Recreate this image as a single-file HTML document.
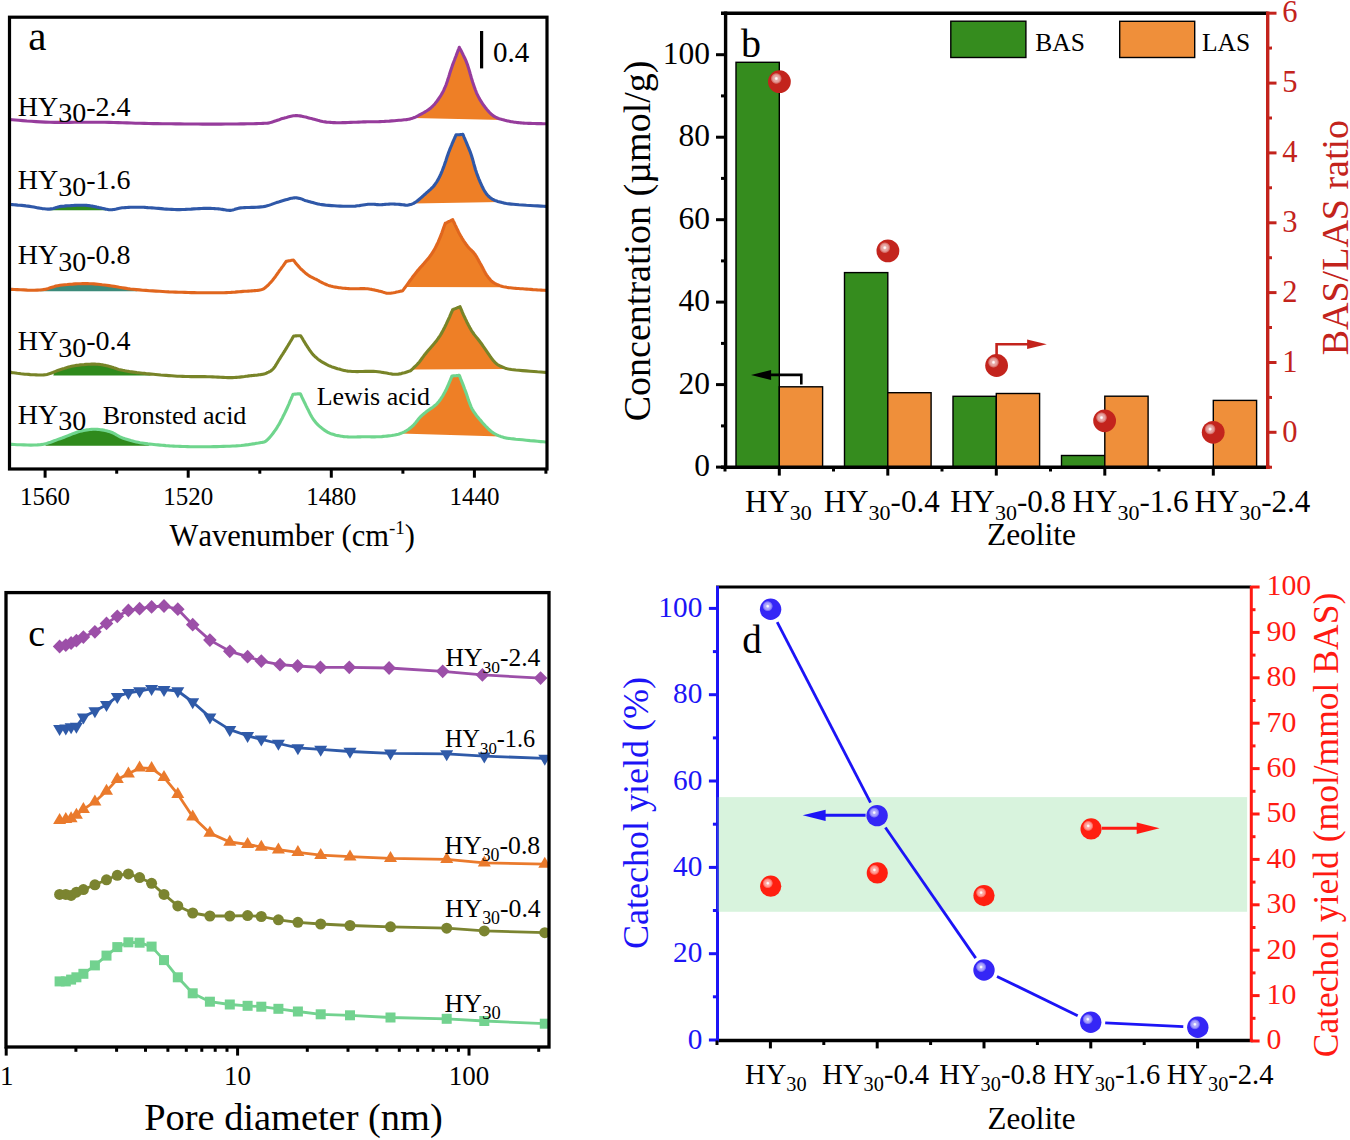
<!DOCTYPE html>
<html><head><meta charset="utf-8"><style>
html,body{margin:0;padding:0;background:#fff;overflow:hidden;}
svg{display:block;}
text{font-family:"Liberation Serif", serif;font-kerning:none;}
</style></head><body>
<svg width="1350" height="1140" viewBox="0 0 1350 1140">
<rect width="1350" height="1140" fill="#fff"/>
<defs>
<radialGradient id="hl" cx="0.5" cy="0.5" r="0.5">
 <stop offset="0" stop-color="#fff" stop-opacity="1"/><stop offset="0.15" stop-color="#fff" stop-opacity="0.95"/><stop offset="0.35" stop-color="#fff" stop-opacity="0.62"/><stop offset="0.62" stop-color="#fff" stop-opacity="0.55"/><stop offset="0.85" stop-color="#fff" stop-opacity="0.3"/><stop offset="1" stop-color="#fff" stop-opacity="0"/>
</radialGradient>
<radialGradient id="gRedDark" cx="0.5" cy="0.5" r="0.5" fx="0.36" fy="0.36">
 <stop offset="0" stop-color="#ffffff"/><stop offset="0.12" stop-color="#f4d0d0"/><stop offset="0.3" stop-color="#d86a66"/><stop offset="0.45" stop-color="#c72a22"/><stop offset="1" stop-color="#bd221b"/>
</radialGradient>
<radialGradient id="gRed" cx="0.5" cy="0.5" r="0.5" fx="0.36" fy="0.36">
 <stop offset="0" stop-color="#ffffff"/><stop offset="0.12" stop-color="#ffd8d8"/><stop offset="0.3" stop-color="#ff6a60"/><stop offset="0.45" stop-color="#ff2418"/><stop offset="1" stop-color="#f01a10"/>
</radialGradient>
<radialGradient id="gBlue" cx="0.5" cy="0.5" r="0.5" fx="0.36" fy="0.36">
 <stop offset="0" stop-color="#ffffff"/><stop offset="0.12" stop-color="#d8dcff"/><stop offset="0.3" stop-color="#8a8cff"/><stop offset="0.45" stop-color="#3a2cf8"/><stop offset="1" stop-color="#2414ee"/>
</radialGradient>
</defs>
<polygon points="413.0,118.1 413.6,117.8 414.4,117.5 415.2,117.2 415.9,116.9 416.7,116.5 417.4,116.1 418.2,115.7 419.1,115.2 420.0,114.7 421.0,114.2 422.0,113.6 423.1,113.0 424.2,112.4 425.3,111.7 426.5,111.0 427.6,110.3 428.7,109.6 429.7,108.8 430.7,108.0 431.6,107.2 432.5,106.3 433.3,105.5 434.2,104.6 435.0,103.7 435.7,102.7 436.5,101.8 437.2,100.8 438.0,99.8 438.7,98.7 439.4,97.6 440.1,96.6 440.8,95.6 441.4,94.5 442.1,93.4 442.7,92.2 443.4,91.0 444.0,89.7 444.6,88.2 445.3,86.7 446.0,85.0 446.6,83.2 447.3,81.3 447.9,79.2 448.6,77.2 449.3,75.0 449.9,72.9 450.6,70.8 451.3,68.7 452.0,66.7 452.7,64.6 453.5,62.5 454.4,60.2 455.2,58.0 456.1,55.8 456.9,53.6 457.6,51.7 458.3,49.9 458.9,48.5 459.3,47.3 459.7,48.2 460.3,49.3 461.0,50.6 461.8,52.1 462.6,53.7 463.4,55.4 464.3,57.2 465.2,59.0 466.0,60.9 466.7,62.7 467.4,64.6 468.1,66.7 468.8,68.9 469.5,71.2 470.1,73.5 470.8,75.8 471.4,78.0 472.1,80.2 472.7,82.2 473.3,84.0 473.9,85.7 474.4,87.2 474.9,88.6 475.4,90.0 475.9,91.2 476.4,92.5 476.9,93.7 477.5,94.9 478.1,96.1 478.7,97.3 479.4,98.6 480.1,99.9 480.9,101.1 481.7,102.4 482.5,103.7 483.4,104.9 484.2,106.1 485.1,107.2 485.9,108.3 486.7,109.3 487.5,110.2 488.3,111.1 489.1,112.0 489.8,112.8 490.6,113.5 491.4,114.3 492.2,114.9 493.0,115.6 493.8,116.1 494.7,116.7 495.6,117.2 496.5,117.6 497.4,118.0 498.3,118.4 499.3,118.7 500.2,119.0 501.2,119.2 502.1,119.5 503.1,119.7 504.0,120.0" fill="#ee7f26" stroke="none" stroke-width="0"/>
<polygon points="413.3,203.5 413.7,203.3 414.7,202.7 415.7,202.0 416.9,201.2 418.1,200.2 419.3,199.2 420.6,198.1 421.9,197.0 423.2,195.8 424.4,194.7 425.6,193.7 426.7,192.7 427.7,191.8 428.7,190.9 429.6,190.1 430.5,189.3 431.3,188.5 432.2,187.7 433.0,186.9 433.8,186.0 434.5,185.0 435.3,184.0 436.0,182.9 436.8,181.8 437.4,180.7 438.1,179.6 438.7,178.4 439.4,177.1 440.0,175.8 440.7,174.4 441.3,172.9 442.0,171.3 442.7,169.5 443.4,167.6 444.2,165.5 444.9,163.4 445.7,161.2 446.4,159.0 447.1,156.8 447.9,154.6 448.6,152.6 449.3,150.7 450.0,148.9 450.8,147.0 451.6,145.1 452.3,143.3 453.1,141.5 453.8,139.9 454.5,138.3 455.1,137.0 455.6,135.8 456.0,134.9 456.4,134.9 457.0,134.8 457.8,134.8 458.6,134.7 459.4,134.7 460.3,134.6 461.1,134.5 461.9,134.5 462.5,134.4 462.9,134.4 463.4,135.5 464.0,137.0 464.7,138.6 465.5,140.5 466.4,142.6 467.3,144.8 468.2,147.0 469.1,149.1 470.0,151.3 470.7,153.3 471.4,155.3 472.0,157.3 472.6,159.3 473.2,161.4 473.7,163.4 474.3,165.5 474.9,167.5 475.4,169.5 476.1,171.4 476.7,173.3 477.4,175.1 478.1,177.0 478.8,178.8 479.6,180.6 480.3,182.4 481.1,184.1 481.8,185.7 482.6,187.3 483.3,188.7 484.0,190.0 484.7,191.2 485.3,192.2 486.0,193.2 486.6,194.0 487.2,194.8 487.9,195.5 488.5,196.2 489.2,196.8 489.9,197.4 490.7,198.0 491.5,198.6 492.3,199.1 493.2,199.5 494.0,200.0 494.9,200.4 495.9,200.7 496.8,201.1 497.8,201.4 498.9,201.7 500.0,202.0" fill="#ee7f26" stroke="none" stroke-width="0"/>
<polygon points="50.0,210.2 50.8,208.9 52.2,208.7 53.4,208.4 54.7,208.0 55.9,207.6 57.1,207.3 58.3,206.9 59.7,206.6 61.1,206.4 62.7,206.2 64.3,206.1 66.0,205.9 67.8,205.8 69.6,205.7 71.4,205.6 73.1,205.5 74.8,205.4 76.3,205.3 77.8,205.3 79.1,205.3 80.4,205.2 81.5,205.2 82.6,205.2 83.7,205.2 84.7,205.3 85.7,205.3 86.8,205.4 87.8,205.5 88.9,205.6 90.0,205.7 91.1,205.9 92.2,206.1 93.3,206.4 94.5,206.6 95.6,206.8 96.7,207.1 97.8,207.3 98.9,207.6 100.0,207.8 101.1,208.0 102.2,208.3 103.3,208.5 104.4,208.8 105.5,209.1 106.0,210.2" fill="#2f8a1c" stroke="none" stroke-width="0"/>
<polygon points="405.3,287.1 405.7,286.6 407.0,284.8 408.4,282.8 409.9,280.7 411.5,278.6 413.0,276.5 414.6,274.6 416.0,272.7 417.4,270.9 419.0,269.1 420.5,267.3 422.1,265.6 423.7,263.8 425.2,262.0 426.7,260.3 428.2,258.6 429.5,256.9 430.7,255.3 431.8,253.7 432.8,252.2 433.6,250.8 434.4,249.4 435.2,248.0 435.9,246.6 436.6,245.2 437.3,243.8 438.0,242.3 438.7,240.7 439.4,239.0 440.2,237.1 441.0,235.1 441.8,233.1 442.5,231.1 443.2,229.1 443.8,227.3 444.4,225.7 444.9,224.3 445.3,223.3 445.8,223.1 446.4,222.8 447.2,222.4 448.1,221.9 449.0,221.5 449.9,221.1 450.8,220.6 451.6,220.2 452.2,219.9 452.7,219.7 453.1,220.6 453.7,221.8 454.4,223.2 455.1,224.8 455.9,226.5 456.7,228.2 457.6,230.0 458.4,231.7 459.2,233.3 460.0,234.7 460.7,236.0 461.5,237.2 462.2,238.5 462.9,239.6 463.6,240.8 464.4,241.9 465.1,243.0 465.8,244.0 466.6,245.0 467.3,246.0 468.0,246.9 468.8,247.8 469.5,248.5 470.3,249.3 471.0,250.0 471.8,250.7 472.5,251.5 473.3,252.2 474.0,253.1 474.7,254.0 475.4,255.0 476.1,256.1 476.8,257.2 477.4,258.3 478.1,259.5 478.7,260.7 479.4,261.9 480.0,263.0 480.7,264.2 481.3,265.3 481.9,266.4 482.5,267.5 483.1,268.7 483.7,269.8 484.2,270.9 484.8,272.0 485.4,273.1 486.0,274.1 486.6,275.1 487.3,276.0 488.0,276.9 488.6,277.7 489.3,278.5 489.9,279.3 490.6,280.1 491.3,280.8 492.1,281.5 492.9,282.1 493.8,282.7 494.7,283.3 495.7,283.8 496.7,284.3 497.7,284.8 498.8,285.2 499.9,285.6 501.1,286.0 502.4,286.4 503.7,286.7 505.2,287.0 506.7,287.3" fill="#ee7f26" stroke="none" stroke-width="0"/>
<polygon points="40.0,291.3 42.4,289.7 44.6,289.4 46.6,288.9 48.5,288.4 50.3,287.8 52.1,287.2 53.9,286.7 55.8,286.1 57.8,285.7 60.0,285.3 62.3,285.0 64.8,284.7 67.3,284.5 69.9,284.2 72.6,284.1 75.2,283.9 77.8,283.8 80.4,283.7 82.9,283.6 85.3,283.6 87.6,283.6 89.7,283.7 91.8,283.8 93.9,283.9 95.9,284.1 98.0,284.3 100.0,284.5 102.1,284.8 104.4,285.0 106.7,285.3 109.1,285.6 111.6,286.0 114.1,286.4 116.7,286.8 119.3,287.3 122.0,287.7 124.7,288.1 127.5,288.6 130.4,289.0 133.3,289.3 136.3,289.6 137.3,291.3" fill="#3b8a7a" stroke="none" stroke-width="0"/>
<polygon points="412.0,369.4 412.6,368.9 413.4,368.1 414.3,367.2 415.2,366.3 416.2,365.4 417.1,364.5 417.9,363.6 418.7,362.7 419.4,361.9 420.0,361.1 420.6,360.3 421.1,359.6 421.7,358.8 422.3,358.0 422.9,357.1 423.6,356.2 424.4,355.1 425.3,354.0 426.3,352.7 427.5,351.3 428.8,349.8 430.2,348.2 431.6,346.6 433.0,344.9 434.4,343.3 435.7,341.7 436.9,340.2 438.0,338.7 438.9,337.3 439.8,336.1 440.6,334.8 441.3,333.6 442.0,332.4 442.6,331.2 443.3,330.0 443.9,328.7 444.6,327.4 445.3,326.0 446.1,324.4 446.9,322.7 447.7,320.9 448.6,319.0 449.5,317.1 450.3,315.2 451.0,313.5 451.7,312.0 452.3,310.7 452.7,309.7 453.2,309.5 453.8,309.2 454.6,308.9 455.4,308.6 456.4,308.2 457.3,307.8 458.1,307.5 458.9,307.2 459.5,306.9 460.0,306.7 460.3,307.4 460.7,308.3 461.2,309.4 461.7,310.6 462.2,311.9 462.8,313.3 463.4,314.7 464.1,316.1 464.7,317.4 465.3,318.7 465.9,319.9 466.5,321.2 467.1,322.5 467.8,323.8 468.4,325.0 469.1,326.3 469.8,327.6 470.5,328.8 471.2,330.1 472.0,331.3 472.8,332.5 473.5,333.5 474.3,334.6 475.1,335.6 475.9,336.6 476.8,337.7 477.7,338.8 478.6,340.0 479.6,341.3 480.7,342.7 481.9,344.3 483.1,346.2 484.5,348.2 485.9,350.2 487.4,352.4 488.8,354.4 490.2,356.4 491.6,358.3 492.8,359.9 494.0,361.3 495.0,362.4 496.0,363.3 496.9,364.1 497.7,364.7 498.5,365.2 499.3,365.6 500.1,366.0 500.9,366.3 501.8,366.7 502.7,367.1 503.6,367.5 504.4,367.8 505.1,368.1 505.8,368.4 506.5,368.6 507.4,368.8 508.0,368.9" fill="#ee7f26" stroke="none" stroke-width="0"/>
<polygon points="53.3,375.4 54.3,371.9 55.7,371.3 57.1,370.7 58.5,370.2 60.0,369.7 61.5,369.2 62.9,368.8 64.3,368.4 65.7,367.9 67.1,367.5 68.5,367.1 70.0,366.7 71.5,366.3 73.1,366.0 74.7,365.7 76.4,365.4 78.3,365.2 80.2,364.9 82.1,364.7 84.1,364.6 86.0,364.4 88.0,364.3 89.9,364.2 91.6,364.1 93.3,364.1 94.9,364.1 96.3,364.2 97.7,364.3 99.0,364.4 100.3,364.5 101.6,364.7 102.9,364.9 104.1,365.2 105.4,365.4 106.7,365.7 108.0,366.0 109.4,366.4 110.7,366.8 112.0,367.2 113.4,367.6 114.7,368.1 116.0,368.5 117.3,369.0 118.7,369.4 120.0,369.7 121.3,370.0 122.6,370.3 123.8,370.5 125.0,370.8 126.2,371.0 127.5,371.2 128.8,371.4 130.2,371.7 131.7,371.9 133.3,372.1 135.0,372.3 136.8,372.6 138.6,372.8 140.5,373.0 142.5,373.2 144.5,373.4 146.6,373.7 148.8,373.9 150.7,375.4" fill="#2f8a1c" stroke="none" stroke-width="0"/>
<polygon points="400.0,433.6 400.3,433.6 401.2,433.2 402.0,432.9 402.8,432.6 403.6,432.2 404.5,431.8 405.3,431.3 406.2,430.8 407.0,430.3 407.8,429.8 408.7,429.2 409.5,428.6 410.3,428.0 411.0,427.3 411.8,426.7 412.6,426.0 413.3,425.3 414.0,424.6 414.7,423.8 415.4,423.0 416.1,422.1 416.8,421.3 417.4,420.4 418.1,419.6 418.7,418.8 419.4,418.0 420.0,417.3 420.6,416.7 421.2,416.1 421.7,415.6 422.2,415.1 422.7,414.7 423.3,414.2 423.8,413.8 424.5,413.2 425.2,412.7 426.0,412.0 426.9,411.3 428.0,410.5 429.1,409.7 430.3,408.9 431.5,408.1 432.8,407.2 434.0,406.3 435.2,405.3 436.3,404.3 437.3,403.3 438.2,402.2 439.1,401.2 440.0,400.0 440.8,398.9 441.6,397.7 442.4,396.5 443.1,395.2 443.8,394.0 444.6,392.6 445.3,391.3 446.1,389.8 446.8,388.2 447.6,386.5 448.4,384.7 449.1,382.9 449.9,381.2 450.5,379.6 451.1,378.1 451.6,376.9 452.0,376.0 452.5,376.0 453.1,375.9 453.9,375.8 454.7,375.7 455.7,375.7 456.6,375.6 457.4,375.5 458.2,375.4 458.8,375.3 459.3,375.3 459.7,376.2 460.1,377.4 460.6,378.7 461.2,380.2 461.9,381.9 462.6,383.6 463.3,385.4 464.0,387.2 464.6,389.0 465.3,390.7 465.9,392.4 466.6,394.2 467.2,396.1 467.8,398.0 468.4,399.9 469.1,401.8 469.8,403.6 470.5,405.4 471.2,407.1 472.0,408.7 472.8,410.2 473.7,411.6 474.6,412.9 475.5,414.2 476.4,415.5 477.4,416.7 478.3,417.8 479.3,419.0 480.3,420.1 481.3,421.3 482.3,422.5 483.4,423.7 484.4,424.8 485.5,426.0 486.6,427.1 487.7,428.2 488.7,429.3 489.8,430.2 490.9,431.2 492.0,432.0 493.1,432.8 494.1,433.4 495.2,434.0 496.3,434.6 497.4,435.1 498.4,435.6 499.5,436.0 500.6,436.4 501.3,436.6" fill="#ee7f26" stroke="none" stroke-width="0"/>
<polygon points="45.3,445.7 46.7,443.4 48.7,442.8 50.6,442.2 52.5,441.5 54.3,440.8 56.2,440.1 58.0,439.4 60.0,438.7 62.0,438.0 64.1,437.2 66.1,436.4 68.2,435.6 70.2,434.8 72.3,433.9 74.3,433.2 76.3,432.5 78.2,431.8 80.0,431.3 81.8,430.9 83.5,430.5 85.1,430.2 86.8,429.9 88.3,429.7 89.9,429.5 91.4,429.4 92.9,429.3 94.5,429.3 96.0,429.3 97.5,429.4 99.1,429.5 100.6,429.7 102.1,429.9 103.6,430.1 105.1,430.5 106.5,430.8 108.0,431.2 109.3,431.6 110.7,432.0 112.0,432.5 113.2,433.0 114.3,433.6 115.4,434.2 116.5,434.9 117.6,435.5 118.8,436.2 120.0,436.8 121.3,437.4 122.7,438.0 124.2,438.5 125.8,439.1 127.4,439.6 129.1,440.1 130.8,440.6 132.6,441.0 134.4,441.5 136.3,441.9 138.1,442.3 140.0,442.7 141.9,443.0 143.8,443.3 145.8,443.6 147.8,443.9 149.3,445.7" fill="#2f8a1c" stroke="none" stroke-width="0"/>
<polyline points="10.0,119.6 12.3,119.8 15.3,120.0 18.7,120.3 22.6,120.6 26.9,121.0 31.4,121.3 36.0,121.6 40.7,121.9 45.4,122.1 50.0,122.3 54.6,122.4 59.4,122.4 64.4,122.4 69.5,122.4 74.7,122.3 79.9,122.3 85.1,122.2 90.2,122.2 95.2,122.2 100.0,122.2 104.7,122.3 109.2,122.4 113.7,122.5 118.2,122.6 122.5,122.8 126.9,122.9 131.2,123.0 135.6,123.2 140.0,123.3 144.4,123.4 148.8,123.5 153.3,123.6 157.7,123.6 162.2,123.7 166.7,123.8 171.1,123.8 175.6,123.9 180.0,123.9 184.5,124.0 188.9,124.0 193.4,124.0 198.0,124.0 202.7,124.1 207.4,124.1 212.0,124.1 216.6,124.1 221.1,124.1 225.4,124.0 229.5,124.0 233.3,124.0 237.0,124.0 240.5,123.9 244.0,123.9 247.3,123.8 250.5,123.8 253.4,123.7 256.2,123.6 258.7,123.5 261.0,123.5 263.0,123.4 264.6,123.3 265.8,123.3 266.6,123.3 267.2,123.2 267.6,123.2 268.0,123.1 268.3,123.1 268.8,122.9 269.5,122.7 270.4,122.5 271.6,122.2 272.9,121.8 274.4,121.3 275.9,120.8 277.5,120.2 279.1,119.7 280.7,119.1 282.3,118.6 283.8,118.2 285.2,117.8 286.5,117.5 287.7,117.1 288.9,116.8 290.0,116.5 291.1,116.2 292.2,116.0 293.4,115.8 294.5,115.7 295.7,115.6 297.0,115.6 298.4,115.7 299.8,115.9 301.2,116.1 302.7,116.4 304.2,116.8 305.7,117.1 307.2,117.5 308.7,117.9 310.1,118.3 311.5,118.6 312.8,118.9 314.1,119.2 315.3,119.6 316.5,119.9 317.7,120.3 318.9,120.6 320.1,120.9 321.3,121.2 322.6,121.5 323.9,121.7 325.2,121.9 326.5,122.1 327.8,122.2 329.0,122.3 330.4,122.4 331.8,122.5 333.2,122.6 334.8,122.6 336.5,122.7 338.4,122.7 340.5,122.7 342.8,122.6 345.4,122.6 348.0,122.5 350.7,122.4 353.4,122.3 356.1,122.2 358.7,122.1 361.1,122.0 363.3,121.9 365.3,121.9 367.1,121.8 368.7,121.8 370.3,121.8 371.8,121.8 373.3,121.8 374.8,121.8 376.4,121.7 378.1,121.7 380.0,121.6 382.1,121.5 384.4,121.4 386.8,121.2 389.3,121.1 391.8,120.9 394.3,120.7 396.7,120.5 398.9,120.3 400.9,120.2 402.7,120.0 404.2,119.8 405.4,119.7 406.5,119.6 407.4,119.5 408.3,119.3 409.0,119.2 409.7,119.0 410.4,118.9 411.2,118.6 412.0,118.4 412.8,118.1 413.6,117.8 414.4,117.5 415.2,117.2 415.9,116.9 416.7,116.5 417.4,116.1 418.2,115.7 419.1,115.2 420.0,114.7 421.0,114.2 422.0,113.6 423.1,113.0 424.2,112.4 425.3,111.7 426.5,111.0 427.6,110.3 428.7,109.6 429.7,108.8 430.7,108.0 431.6,107.2 432.5,106.3 433.3,105.5 434.2,104.6 435.0,103.7 435.7,102.7 436.5,101.8 437.2,100.8 438.0,99.8 438.7,98.7 439.4,97.6 440.1,96.6 440.8,95.6 441.4,94.5 442.1,93.4 442.7,92.2 443.4,91.0 444.0,89.7 444.6,88.2 445.3,86.7 446.0,85.0 446.6,83.2 447.3,81.3 447.9,79.2 448.6,77.2 449.3,75.0 449.9,72.9 450.6,70.8 451.3,68.7 452.0,66.7 452.7,64.6 453.5,62.5 454.4,60.2 455.2,58.0 456.1,55.8 456.9,53.6 457.6,51.7 458.3,49.9 458.9,48.5 459.3,47.3 459.7,48.2 460.3,49.3 461.0,50.6 461.8,52.1 462.6,53.7 463.4,55.4 464.3,57.2 465.2,59.0 466.0,60.9 466.7,62.7 467.4,64.6 468.1,66.7 468.8,68.9 469.5,71.2 470.1,73.5 470.8,75.8 471.4,78.0 472.1,80.2 472.7,82.2 473.3,84.0 473.9,85.7 474.4,87.2 474.9,88.6 475.4,90.0 475.9,91.2 476.4,92.5 476.9,93.7 477.5,94.9 478.1,96.1 478.7,97.3 479.4,98.6 480.1,99.9 480.9,101.1 481.7,102.4 482.5,103.7 483.4,104.9 484.2,106.1 485.1,107.2 485.9,108.3 486.7,109.3 487.5,110.2 488.3,111.1 489.1,112.0 489.8,112.8 490.6,113.5 491.4,114.3 492.2,114.9 493.0,115.6 493.8,116.1 494.7,116.7 495.6,117.2 496.5,117.6 497.4,118.0 498.3,118.4 499.3,118.7 500.2,119.0 501.2,119.2 502.1,119.5 503.1,119.7 504.0,120.0 504.9,120.3 505.8,120.5 506.7,120.7 507.5,120.9 508.4,121.1 509.3,121.3 510.2,121.5 511.2,121.7 512.2,121.8 513.3,122.0 514.4,122.2 515.6,122.3 516.8,122.5 518.1,122.6 519.4,122.8 520.8,122.9 522.2,123.0 523.6,123.1 525.1,123.2 526.7,123.3 528.4,123.4 530.4,123.4 532.5,123.5 534.7,123.5 536.9,123.6 539.1,123.6 541.1,123.6 542.9,123.7 544.4,123.7 545.5,123.7" fill="none" stroke="#963c9c" stroke-width="3.1" stroke-linejoin="round" stroke-linecap="round" />
<polyline points="10.0,204.4 11.0,204.5 12.4,204.6 14.0,204.7 15.7,204.9 17.7,205.1 19.7,205.2 21.7,205.4 23.8,205.6 25.9,205.9 27.8,206.1 29.7,206.4 31.8,206.7 33.8,207.1 36.0,207.5 38.1,207.9 40.2,208.2 42.2,208.6 44.2,208.8 46.1,209.0 47.8,209.1 49.4,209.1 50.8,208.9 52.2,208.7 53.4,208.4 54.7,208.0 55.9,207.6 57.1,207.3 58.3,206.9 59.7,206.6 61.1,206.4 62.7,206.2 64.3,206.1 66.0,205.9 67.8,205.8 69.6,205.7 71.4,205.6 73.1,205.5 74.8,205.4 76.3,205.3 77.8,205.3 79.1,205.3 80.4,205.2 81.5,205.2 82.6,205.2 83.7,205.2 84.7,205.3 85.7,205.3 86.8,205.4 87.8,205.5 88.9,205.6 90.0,205.7 91.1,205.9 92.2,206.1 93.3,206.4 94.5,206.6 95.6,206.8 96.7,207.1 97.8,207.3 98.9,207.6 100.0,207.8 101.1,208.0 102.2,208.3 103.3,208.5 104.4,208.8 105.5,209.1 106.7,209.3 107.8,209.5 108.9,209.7 110.0,209.8 111.1,209.8 112.2,209.8 113.2,209.6 114.3,209.4 115.3,209.2 116.3,209.0 117.4,208.7 118.5,208.4 119.6,208.2 120.9,208.0 122.2,207.8 123.7,207.7 125.2,207.6 126.9,207.5 128.7,207.4 130.4,207.3 132.2,207.3 134.0,207.2 135.7,207.2 137.4,207.2 138.9,207.2 140.3,207.2 141.5,207.2 142.7,207.3 143.8,207.3 144.9,207.4 146.0,207.5 147.2,207.6 148.6,207.7 150.1,207.8 151.9,207.9 153.9,208.0 156.1,208.2 158.5,208.4 161.0,208.6 163.6,208.9 166.3,209.1 169.0,209.3 171.7,209.4 174.4,209.5 177.0,209.6 179.7,209.6 182.4,209.5 185.3,209.4 188.1,209.2 191.0,209.1 193.8,208.9 196.5,208.7 199.1,208.6 201.5,208.5 203.7,208.4 205.7,208.4 207.5,208.4 209.1,208.4 210.6,208.4 212.0,208.5 213.4,208.5 214.6,208.6 215.9,208.7 217.2,208.8 218.5,208.9 219.8,209.0 221.1,209.2 222.3,209.4 223.5,209.6 224.7,209.8 225.9,210.0 227.0,210.2 228.2,210.3 229.3,210.4 230.4,210.4 231.4,210.3 232.4,210.1 233.2,209.9 234.1,209.6 234.9,209.3 235.8,209.0 236.8,208.7 237.9,208.4 239.2,208.1 240.7,207.9 242.5,207.7 244.5,207.6 246.7,207.5 249.1,207.5 251.6,207.4 254.0,207.4 256.5,207.3 258.8,207.1 261.0,206.9 263.0,206.7 264.8,206.4 266.4,206.0 268.0,205.6 269.5,205.1 270.9,204.6 272.2,204.1 273.6,203.6 275.0,203.1 276.4,202.6 277.8,202.2 279.3,201.8 280.9,201.3 282.5,200.8 284.1,200.3 285.7,199.8 287.2,199.4 288.7,199.0 290.1,198.6 291.4,198.3 292.6,198.1 293.6,197.9 294.6,197.9 295.4,197.8 296.1,197.8 296.8,197.9 297.4,198.0 298.0,198.1 298.6,198.2 299.3,198.4 300.0,198.5 300.7,198.7 301.3,198.9 301.9,199.1 302.5,199.3 303.1,199.6 303.7,199.9 304.4,200.2 305.2,200.5 306.2,200.8 307.3,201.1 308.5,201.4 309.9,201.8 311.3,202.2 312.8,202.6 314.4,203.1 316.1,203.5 317.9,203.9 319.8,204.3 321.8,204.6 323.9,204.9 326.2,205.2 328.8,205.4 331.5,205.6 334.3,205.8 337.3,206.0 340.2,206.1 343.1,206.2 345.9,206.3 348.5,206.3 350.9,206.3 353.1,206.2 355.3,206.1 357.4,205.8 359.4,205.6 361.3,205.3 363.1,205.0 364.9,204.7 366.5,204.5 368.1,204.3 369.6,204.2 371.0,204.2 372.2,204.2 373.2,204.2 374.2,204.3 375.1,204.4 376.0,204.5 376.9,204.6 377.9,204.6 378.9,204.7 380.0,204.7 381.2,204.7 382.5,204.6 383.8,204.5 385.1,204.4 386.4,204.3 387.8,204.2 389.2,204.1 390.5,204.0 391.9,204.0 393.3,204.0 394.7,204.1 396.3,204.2 397.9,204.3 399.5,204.4 401.1,204.6 402.7,204.8 404.1,204.9 405.4,205.1 406.5,205.2 407.3,205.3 407.7,205.2 408.2,205.1 408.8,204.9 409.5,204.8 410.2,204.6 411.1,204.4 411.9,204.1 412.8,203.7 413.7,203.3 414.7,202.7 415.7,202.0 416.9,201.2 418.1,200.2 419.3,199.2 420.6,198.1 421.9,197.0 423.2,195.8 424.4,194.7 425.6,193.7 426.7,192.7 427.7,191.8 428.7,190.9 429.6,190.1 430.5,189.3 431.3,188.5 432.2,187.7 433.0,186.9 433.8,186.0 434.5,185.0 435.3,184.0 436.0,182.9 436.8,181.8 437.4,180.7 438.1,179.6 438.7,178.4 439.4,177.1 440.0,175.8 440.7,174.4 441.3,172.9 442.0,171.3 442.7,169.5 443.4,167.6 444.2,165.5 444.9,163.4 445.7,161.2 446.4,159.0 447.1,156.8 447.9,154.6 448.6,152.6 449.3,150.7 450.0,148.9 450.8,147.0 451.6,145.1 452.3,143.3 453.1,141.5 453.8,139.9 454.5,138.3 455.1,137.0 455.6,135.8 456.0,134.9 456.4,134.9 457.0,134.8 457.8,134.8 458.6,134.7 459.4,134.7 460.3,134.6 461.1,134.5 461.9,134.5 462.5,134.4 462.9,134.4 463.4,135.5 464.0,137.0 464.7,138.6 465.5,140.5 466.4,142.6 467.3,144.8 468.2,147.0 469.1,149.1 470.0,151.3 470.7,153.3 471.4,155.3 472.0,157.3 472.6,159.3 473.2,161.4 473.7,163.4 474.3,165.5 474.9,167.5 475.4,169.5 476.1,171.4 476.7,173.3 477.4,175.1 478.1,177.0 478.8,178.8 479.6,180.6 480.3,182.4 481.1,184.1 481.8,185.7 482.6,187.3 483.3,188.7 484.0,190.0 484.7,191.2 485.3,192.2 486.0,193.2 486.6,194.0 487.2,194.8 487.9,195.5 488.5,196.2 489.2,196.8 489.9,197.4 490.7,198.0 491.5,198.6 492.3,199.1 493.2,199.5 494.0,200.0 494.9,200.4 495.9,200.7 496.8,201.1 497.8,201.4 498.9,201.7 500.0,202.0 501.1,202.3 502.1,202.6 503.1,202.8 504.1,203.1 505.2,203.3 506.4,203.5 507.8,203.7 509.4,203.9 511.2,204.1 513.3,204.3 515.9,204.5 519.0,204.8 522.6,205.0 526.4,205.3 530.2,205.5 534.0,205.7 537.6,205.9 540.8,206.1 543.5,206.3 545.5,206.4" fill="none" stroke="#2f58a8" stroke-width="3.1" stroke-linejoin="round" stroke-linecap="round" />
<polyline points="10.0,289.3 11.8,289.4 14.2,289.5 17.1,289.6 20.3,289.8 23.8,289.9 27.3,290.1 30.8,290.2 34.2,290.2 37.3,290.1 40.0,290.0 42.4,289.7 44.6,289.4 46.6,288.9 48.5,288.4 50.3,287.8 52.1,287.2 53.9,286.7 55.8,286.1 57.8,285.7 60.0,285.3 62.3,285.0 64.8,284.7 67.3,284.5 69.9,284.2 72.6,284.1 75.2,283.9 77.8,283.8 80.4,283.7 82.9,283.6 85.3,283.6 87.6,283.6 89.7,283.7 91.8,283.8 93.9,283.9 95.9,284.1 98.0,284.3 100.0,284.5 102.1,284.8 104.4,285.0 106.7,285.3 109.1,285.6 111.6,286.0 114.1,286.4 116.7,286.8 119.3,287.3 122.0,287.7 124.7,288.1 127.5,288.6 130.4,289.0 133.3,289.3 136.3,289.6 139.5,289.9 142.7,290.2 146.0,290.4 149.3,290.7 152.7,290.9 156.0,291.1 159.4,291.3 162.7,291.5 165.9,291.7 169.1,291.9 172.3,292.0 175.5,292.1 178.7,292.2 181.9,292.3 185.0,292.4 188.1,292.5 191.2,292.6 194.2,292.6 197.1,292.7 200.0,292.7 202.9,292.8 205.7,292.8 208.5,292.8 211.2,292.8 213.9,292.8 216.5,292.8 219.1,292.8 221.6,292.8 224.0,292.7 226.4,292.6 228.6,292.5 230.9,292.4 233.0,292.2 235.1,292.1 237.2,291.9 239.2,291.8 241.1,291.6 243.0,291.4 244.8,291.3 246.6,291.2 248.3,291.1 250.1,291.0 251.7,290.9 253.3,290.8 254.9,290.6 256.3,290.5 257.6,290.4 258.9,290.2 260.0,290.0 261.0,289.8 261.8,289.6 262.4,289.4 263.0,289.1 263.5,288.9 263.9,288.6 264.4,288.3 264.9,287.9 265.4,287.5 266.0,287.0 266.7,286.4 267.4,285.8 268.1,285.1 268.9,284.3 269.6,283.5 270.4,282.7 271.1,281.9 271.9,281.0 272.6,280.2 273.3,279.3 274.0,278.4 274.7,277.5 275.4,276.6 276.0,275.7 276.7,274.7 277.4,273.8 278.0,272.8 278.7,271.8 279.3,270.9 280.0,270.0 280.7,269.1 281.4,268.1 282.1,267.1 282.9,266.1 283.6,265.1 284.3,264.1 284.9,263.3 285.4,262.5 285.9,261.8 286.3,261.3 286.7,261.2 287.4,261.1 288.1,261.0 288.9,260.8 289.8,260.7 290.7,260.5 291.5,260.3 292.2,260.2 292.9,260.1 293.3,260.0 293.7,260.5 294.2,261.1 294.8,261.8 295.4,262.7 296.1,263.6 296.9,264.5 297.7,265.4 298.5,266.3 299.2,267.2 300.0,268.0 300.7,268.8 301.5,269.5 302.3,270.2 303.1,271.0 303.9,271.7 304.7,272.4 305.5,273.1 306.3,273.8 307.2,274.4 308.0,275.0 308.8,275.6 309.7,276.1 310.5,276.6 311.4,277.0 312.2,277.5 313.1,277.9 314.0,278.3 314.9,278.8 315.8,279.2 316.7,279.7 317.6,280.2 318.6,280.7 319.6,281.3 320.6,281.8 321.6,282.3 322.6,282.9 323.7,283.4 324.7,283.8 325.7,284.3 326.7,284.7 327.7,285.1 328.6,285.4 329.6,285.7 330.5,286.0 331.5,286.2 332.5,286.5 333.5,286.7 334.5,286.9 335.6,287.1 336.7,287.3 337.9,287.5 339.1,287.7 340.3,287.8 341.6,288.0 342.9,288.2 344.2,288.3 345.6,288.4 347.0,288.5 348.5,288.6 350.0,288.7 351.6,288.8 353.3,288.8 355.1,288.7 356.9,288.7 358.8,288.7 360.7,288.6 362.5,288.6 364.3,288.6 365.9,288.7 367.5,288.8 369.0,289.0 370.4,289.2 371.7,289.4 373.0,289.7 374.3,289.9 375.5,290.2 376.6,290.5 377.8,290.8 378.9,291.1 380.0,291.3 381.0,291.5 382.0,291.8 382.9,292.1 383.8,292.4 384.6,292.6 385.4,292.9 386.3,293.1 387.2,293.2 388.2,293.3 389.3,293.3 390.5,293.2 391.9,293.0 393.4,292.8 395.0,292.5 396.6,292.1 398.1,291.8 399.5,291.4 400.8,291.1 401.9,290.9 402.7,290.7 403.5,289.6 404.5,288.2 405.7,286.6 407.0,284.8 408.4,282.8 409.9,280.7 411.5,278.6 413.0,276.5 414.6,274.6 416.0,272.7 417.4,270.9 419.0,269.1 420.5,267.3 422.1,265.6 423.7,263.8 425.2,262.0 426.7,260.3 428.2,258.6 429.5,256.9 430.7,255.3 431.8,253.7 432.8,252.2 433.6,250.8 434.4,249.4 435.2,248.0 435.9,246.6 436.6,245.2 437.3,243.8 438.0,242.3 438.7,240.7 439.4,239.0 440.2,237.1 441.0,235.1 441.8,233.1 442.5,231.1 443.2,229.1 443.8,227.3 444.4,225.7 444.9,224.3 445.3,223.3 445.8,223.1 446.4,222.8 447.2,222.4 448.1,221.9 449.0,221.5 449.9,221.1 450.8,220.6 451.6,220.2 452.2,219.9 452.7,219.7 453.1,220.6 453.7,221.8 454.4,223.2 455.1,224.8 455.9,226.5 456.7,228.2 457.6,230.0 458.4,231.7 459.2,233.3 460.0,234.7 460.7,236.0 461.5,237.2 462.2,238.5 462.9,239.6 463.6,240.8 464.4,241.9 465.1,243.0 465.8,244.0 466.6,245.0 467.3,246.0 468.0,246.9 468.8,247.8 469.5,248.5 470.3,249.3 471.0,250.0 471.8,250.7 472.5,251.5 473.3,252.2 474.0,253.1 474.7,254.0 475.4,255.0 476.1,256.1 476.8,257.2 477.4,258.3 478.1,259.5 478.7,260.7 479.4,261.9 480.0,263.0 480.7,264.2 481.3,265.3 481.9,266.4 482.5,267.5 483.1,268.7 483.7,269.8 484.2,270.9 484.8,272.0 485.4,273.1 486.0,274.1 486.6,275.1 487.3,276.0 488.0,276.9 488.6,277.7 489.3,278.5 489.9,279.3 490.6,280.1 491.3,280.8 492.1,281.5 492.9,282.1 493.8,282.7 494.7,283.3 495.7,283.8 496.7,284.3 497.7,284.8 498.8,285.2 499.9,285.6 501.1,286.0 502.4,286.4 503.7,286.7 505.2,287.0 506.7,287.3 508.4,287.6 510.2,287.8 512.1,288.0 514.2,288.2 516.3,288.4 518.4,288.5 520.5,288.7 522.6,288.8 524.7,289.0 526.7,289.1 528.7,289.3 530.8,289.4 533.0,289.6 535.2,289.7 537.4,289.9 539.4,290.0 541.3,290.1 543.0,290.2 544.4,290.3 545.5,290.4" fill="none" stroke="#e0661e" stroke-width="3.1" stroke-linejoin="round" stroke-linecap="round" />
<polyline points="10.0,372.3 11.0,372.4 12.2,372.6 13.7,372.8 15.4,373.0 17.2,373.3 19.1,373.5 21.0,373.8 23.0,374.0 24.9,374.2 26.7,374.3 28.5,374.4 30.4,374.6 32.3,374.7 34.2,374.8 36.1,374.9 38.0,375.0 39.9,375.0 41.8,375.0 43.6,374.9 45.3,374.7 46.9,374.4 48.5,374.0 50.0,373.6 51.5,373.0 52.9,372.5 54.3,371.9 55.7,371.3 57.1,370.7 58.5,370.2 60.0,369.7 61.5,369.2 62.9,368.8 64.3,368.4 65.7,367.9 67.1,367.5 68.5,367.1 70.0,366.7 71.5,366.3 73.1,366.0 74.7,365.7 76.4,365.4 78.3,365.2 80.2,364.9 82.1,364.7 84.1,364.6 86.0,364.4 88.0,364.3 89.9,364.2 91.6,364.1 93.3,364.1 94.9,364.1 96.3,364.2 97.7,364.3 99.0,364.4 100.3,364.5 101.6,364.7 102.9,364.9 104.1,365.2 105.4,365.4 106.7,365.7 108.0,366.0 109.4,366.4 110.7,366.8 112.0,367.2 113.4,367.6 114.7,368.1 116.0,368.5 117.3,369.0 118.7,369.4 120.0,369.7 121.3,370.0 122.6,370.3 123.8,370.5 125.0,370.8 126.2,371.0 127.5,371.2 128.8,371.4 130.2,371.7 131.7,371.9 133.3,372.1 135.0,372.3 136.8,372.6 138.6,372.8 140.5,373.0 142.5,373.2 144.5,373.4 146.6,373.7 148.8,373.9 151.0,374.1 153.3,374.3 155.7,374.5 158.2,374.7 160.8,375.0 163.5,375.2 166.2,375.4 168.9,375.6 171.7,375.8 174.5,376.0 177.3,376.2 180.0,376.3 182.7,376.4 185.5,376.5 188.2,376.5 191.0,376.6 193.8,376.6 196.6,376.6 199.3,376.6 202.1,376.6 204.8,376.6 207.4,376.7 210.0,376.8 212.7,376.9 215.3,377.0 217.9,377.1 220.5,377.3 223.1,377.4 225.5,377.5 227.9,377.6 230.2,377.6 232.3,377.6 234.3,377.5 236.2,377.4 238.1,377.3 239.8,377.1 241.5,376.9 243.1,376.7 244.6,376.5 246.1,376.2 247.5,376.1 248.9,375.9 250.3,375.8 251.6,375.6 252.8,375.5 254.0,375.4 255.1,375.3 256.2,375.2 257.2,375.1 258.2,374.9 259.1,374.8 260.0,374.7 260.8,374.6 261.5,374.5 262.1,374.4 262.7,374.3 263.3,374.2 263.8,374.1 264.3,373.9 264.8,373.8 265.4,373.6 266.0,373.3 266.7,373.0 267.3,372.7 268.0,372.4 268.7,372.1 269.4,371.7 270.2,371.3 270.9,370.9 271.6,370.3 272.3,369.7 273.0,369.0 273.7,368.2 274.4,367.3 275.1,366.3 275.8,365.2 276.5,364.0 277.2,362.9 277.9,361.7 278.6,360.5 279.3,359.4 280.0,358.3 280.7,357.2 281.4,356.2 282.0,355.1 282.7,354.1 283.3,353.1 284.0,352.0 284.7,351.0 285.3,349.9 286.0,348.8 286.7,347.7 287.4,346.5 288.2,345.2 289.0,343.9 289.8,342.5 290.6,341.2 291.4,339.9 292.1,338.7 292.7,337.6 293.3,336.7 293.7,336.0 294.1,336.0 294.8,336.0 295.5,335.9 296.3,335.9 297.2,335.8 298.1,335.8 298.9,335.8 299.6,335.7 300.3,335.7 300.7,335.7 301.1,336.4 301.7,337.4 302.4,338.5 303.1,339.8 303.9,341.2 304.8,342.6 305.6,344.0 306.5,345.3 307.3,346.6 308.0,347.7 308.7,348.7 309.3,349.7 310.0,350.6 310.6,351.5 311.3,352.4 311.9,353.2 312.6,354.0 313.2,354.8 314.0,355.5 314.7,356.3 315.5,357.0 316.3,357.7 317.1,358.4 317.9,359.1 318.8,359.8 319.7,360.4 320.6,361.0 321.5,361.6 322.4,362.1 323.3,362.7 324.2,363.2 325.1,363.7 326.0,364.2 326.9,364.7 327.8,365.1 328.8,365.6 329.8,366.0 330.8,366.4 332.0,366.9 333.3,367.3 334.7,367.7 336.1,368.2 337.5,368.7 339.1,369.1 340.7,369.6 342.3,370.0 344.1,370.4 346.0,370.8 347.9,371.1 350.0,371.3 352.2,371.5 354.7,371.5 357.2,371.6 359.9,371.5 362.7,371.5 365.4,371.4 368.2,371.4 370.9,371.4 373.4,371.4 375.8,371.5 378.1,371.7 380.3,372.0 382.4,372.4 384.5,372.7 386.6,373.1 388.6,373.5 390.5,373.8 392.4,374.1 394.2,374.3 396.0,374.3 397.8,374.2 399.5,373.9 401.3,373.6 403.0,373.1 404.6,372.7 406.1,372.2 407.5,371.7 408.8,371.3 409.9,370.9 410.7,370.7 411.2,370.2 411.8,369.6 412.6,368.9 413.4,368.1 414.3,367.2 415.2,366.3 416.2,365.4 417.1,364.5 417.9,363.6 418.7,362.7 419.4,361.9 420.0,361.1 420.6,360.3 421.1,359.6 421.7,358.8 422.3,358.0 422.9,357.1 423.6,356.2 424.4,355.1 425.3,354.0 426.3,352.7 427.5,351.3 428.8,349.8 430.2,348.2 431.6,346.6 433.0,344.9 434.4,343.3 435.7,341.7 436.9,340.2 438.0,338.7 438.9,337.3 439.8,336.1 440.6,334.8 441.3,333.6 442.0,332.4 442.6,331.2 443.3,330.0 443.9,328.7 444.6,327.4 445.3,326.0 446.1,324.4 446.9,322.7 447.7,320.9 448.6,319.0 449.5,317.1 450.3,315.2 451.0,313.5 451.7,312.0 452.3,310.7 452.7,309.7 453.2,309.5 453.8,309.2 454.6,308.9 455.4,308.6 456.4,308.2 457.3,307.8 458.1,307.5 458.9,307.2 459.5,306.9 460.0,306.7 460.3,307.4 460.7,308.3 461.2,309.4 461.7,310.6 462.2,311.9 462.8,313.3 463.4,314.7 464.1,316.1 464.7,317.4 465.3,318.7 465.9,319.9 466.5,321.2 467.1,322.5 467.8,323.8 468.4,325.0 469.1,326.3 469.8,327.6 470.5,328.8 471.2,330.1 472.0,331.3 472.8,332.5 473.5,333.5 474.3,334.6 475.1,335.6 475.9,336.6 476.8,337.7 477.7,338.8 478.6,340.0 479.6,341.3 480.7,342.7 481.9,344.3 483.1,346.2 484.5,348.2 485.9,350.2 487.4,352.4 488.8,354.4 490.2,356.4 491.6,358.3 492.8,359.9 494.0,361.3 495.0,362.4 496.0,363.3 496.9,364.1 497.7,364.7 498.5,365.2 499.3,365.6 500.1,366.0 500.9,366.3 501.8,366.7 502.7,367.1 503.6,367.5 504.4,367.8 505.1,368.1 505.8,368.4 506.5,368.6 507.4,368.8 508.5,369.0 509.8,369.2 511.4,369.5 513.3,369.7 515.8,370.0 518.9,370.3 522.4,370.6 526.2,370.9 530.1,371.2 533.9,371.5 537.5,371.8 540.8,372.0 543.5,372.2 545.5,372.4" fill="none" stroke="#788428" stroke-width="3.1" stroke-linejoin="round" stroke-linecap="round" />
<polyline points="10.0,444.4 11.8,444.4 14.2,444.5 17.1,444.7 20.3,444.8 23.8,444.9 27.3,445.0 30.8,445.1 34.2,445.0 37.3,444.9 40.0,444.7 42.4,444.4 44.6,443.9 46.7,443.4 48.7,442.8 50.6,442.2 52.5,441.5 54.3,440.8 56.2,440.1 58.0,439.4 60.0,438.7 62.0,438.0 64.1,437.2 66.1,436.4 68.2,435.6 70.2,434.8 72.3,433.9 74.3,433.2 76.3,432.5 78.2,431.8 80.0,431.3 81.8,430.9 83.5,430.5 85.1,430.2 86.8,429.9 88.3,429.7 89.9,429.5 91.4,429.4 92.9,429.3 94.5,429.3 96.0,429.3 97.5,429.4 99.1,429.5 100.6,429.7 102.1,429.9 103.6,430.1 105.1,430.5 106.5,430.8 108.0,431.2 109.3,431.6 110.7,432.0 112.0,432.5 113.2,433.0 114.3,433.6 115.4,434.2 116.5,434.9 117.6,435.5 118.8,436.2 120.0,436.8 121.3,437.4 122.7,438.0 124.2,438.5 125.8,439.1 127.4,439.6 129.1,440.1 130.8,440.6 132.6,441.0 134.4,441.5 136.3,441.9 138.1,442.3 140.0,442.7 141.9,443.0 143.8,443.3 145.8,443.6 147.8,443.9 149.8,444.1 151.9,444.3 153.9,444.5 156.0,444.7 158.0,444.9 160.0,445.1 162.0,445.3 163.9,445.4 165.8,445.6 167.6,445.7 169.5,445.9 171.5,446.0 173.5,446.1 175.5,446.2 177.7,446.3 180.0,446.4 182.4,446.5 184.9,446.5 187.6,446.6 190.2,446.7 193.0,446.7 195.8,446.7 198.7,446.7 201.6,446.7 204.5,446.7 207.4,446.7 210.4,446.7 213.5,446.6 216.8,446.6 220.0,446.5 223.3,446.4 226.6,446.3 229.8,446.2 232.8,446.0 235.8,445.9 238.5,445.7 241.1,445.5 243.7,445.2 246.1,444.9 248.5,444.6 250.8,444.2 253.0,443.9 255.0,443.6 256.8,443.2 258.5,443.0 260.0,442.7 261.2,442.5 262.2,442.4 262.9,442.3 263.5,442.2 263.9,442.1 264.3,442.0 264.6,441.9 265.0,441.7 265.4,441.4 266.0,441.0 266.6,440.5 267.3,439.9 268.0,439.3 268.6,438.6 269.3,437.9 270.0,437.1 270.7,436.3 271.4,435.4 272.0,434.6 272.7,433.7 273.4,432.8 274.0,431.9 274.7,431.0 275.3,430.1 276.0,429.2 276.6,428.2 277.3,427.1 277.9,426.0 278.6,424.9 279.3,423.7 280.0,422.4 280.7,421.1 281.5,419.6 282.3,418.2 283.0,416.6 283.8,415.1 284.5,413.6 285.3,412.0 286.0,410.5 286.7,409.0 287.4,407.5 288.1,405.8 288.9,404.1 289.6,402.4 290.3,400.7 291.0,399.1 291.6,397.6 292.2,396.3 292.6,395.2 293.0,394.3 293.5,394.3 294.1,394.2 294.9,394.1 295.7,394.1 296.7,394.0 297.6,393.9 298.4,393.9 299.2,393.8 299.8,393.7 300.3,393.7 300.7,394.5 301.2,395.5 301.7,396.7 302.4,398.1 303.0,399.5 303.8,401.0 304.5,402.6 305.3,404.1 306.0,405.6 306.7,407.0 307.4,408.4 308.1,409.7 308.8,411.2 309.5,412.6 310.2,414.0 311.0,415.4 311.7,416.7 312.5,418.0 313.2,419.2 314.0,420.3 314.8,421.3 315.6,422.3 316.3,423.2 317.1,424.0 318.0,424.8 318.8,425.6 319.6,426.3 320.4,427.0 321.2,427.6 322.0,428.3 322.8,428.9 323.6,429.5 324.3,430.1 325.1,430.6 325.9,431.1 326.7,431.6 327.5,432.1 328.3,432.5 329.1,432.9 330.0,433.3 330.9,433.7 331.9,434.0 332.9,434.3 333.9,434.6 334.9,434.9 335.9,435.2 336.9,435.4 338.0,435.6 339.0,435.8 340.0,436.0 341.0,436.2 341.9,436.3 342.9,436.5 343.8,436.6 344.8,436.7 345.8,436.8 346.8,436.8 347.8,436.9 348.9,437.0 350.0,437.0 351.2,437.0 352.4,437.0 353.6,437.0 354.9,437.0 356.2,437.0 357.6,436.9 359.0,436.9 360.4,436.9 361.8,436.8 363.3,436.8 364.8,436.8 366.4,436.8 368.1,436.8 369.8,436.8 371.5,436.9 373.2,436.9 374.9,436.9 376.7,436.8 378.3,436.8 380.0,436.7 381.7,436.6 383.4,436.4 385.1,436.3 386.8,436.1 388.5,435.9 390.1,435.7 391.7,435.5 393.2,435.2 394.7,435.0 396.0,434.7 397.2,434.4 398.3,434.2 399.3,433.9 400.3,433.6 401.2,433.2 402.0,432.9 402.8,432.6 403.6,432.2 404.5,431.8 405.3,431.3 406.2,430.8 407.0,430.3 407.8,429.8 408.7,429.2 409.5,428.6 410.3,428.0 411.0,427.3 411.8,426.7 412.6,426.0 413.3,425.3 414.0,424.6 414.7,423.8 415.4,423.0 416.1,422.1 416.8,421.3 417.4,420.4 418.1,419.6 418.7,418.8 419.4,418.0 420.0,417.3 420.6,416.7 421.2,416.1 421.7,415.6 422.2,415.1 422.7,414.7 423.3,414.2 423.8,413.8 424.5,413.2 425.2,412.7 426.0,412.0 426.9,411.3 428.0,410.5 429.1,409.7 430.3,408.9 431.5,408.1 432.8,407.2 434.0,406.3 435.2,405.3 436.3,404.3 437.3,403.3 438.2,402.2 439.1,401.2 440.0,400.0 440.8,398.9 441.6,397.7 442.4,396.5 443.1,395.2 443.8,394.0 444.6,392.6 445.3,391.3 446.1,389.8 446.8,388.2 447.6,386.5 448.4,384.7 449.1,382.9 449.9,381.2 450.5,379.6 451.1,378.1 451.6,376.9 452.0,376.0 452.5,376.0 453.1,375.9 453.9,375.8 454.7,375.7 455.7,375.7 456.6,375.6 457.4,375.5 458.2,375.4 458.8,375.3 459.3,375.3 459.7,376.2 460.1,377.4 460.6,378.7 461.2,380.2 461.9,381.9 462.6,383.6 463.3,385.4 464.0,387.2 464.6,389.0 465.3,390.7 465.9,392.4 466.6,394.2 467.2,396.1 467.8,398.0 468.4,399.9 469.1,401.8 469.8,403.6 470.5,405.4 471.2,407.1 472.0,408.7 472.8,410.2 473.7,411.6 474.6,412.9 475.5,414.2 476.4,415.5 477.4,416.7 478.3,417.8 479.3,419.0 480.3,420.1 481.3,421.3 482.3,422.5 483.4,423.7 484.4,424.8 485.5,426.0 486.6,427.1 487.7,428.2 488.7,429.3 489.8,430.2 490.9,431.2 492.0,432.0 493.1,432.8 494.1,433.4 495.2,434.0 496.3,434.6 497.4,435.1 498.4,435.6 499.5,436.0 500.6,436.4 501.6,436.7 502.7,437.1 503.7,437.4 504.5,437.7 505.2,437.8 505.9,438.0 506.7,438.1 507.5,438.2 508.5,438.4 509.8,438.5 511.4,438.7 513.3,438.9 515.8,439.2 518.9,439.5 522.4,439.8 526.2,440.2 530.1,440.6 533.9,440.9 537.5,441.3 540.8,441.6 543.5,441.8 545.5,442.0" fill="none" stroke="#6fd58d" stroke-width="3.1" stroke-linejoin="round" stroke-linecap="round" />
<rect x="9.5" y="17.2" width="537.5" height="451.8" fill="none" stroke="#000" stroke-width="3.2"/>
<line x1="45.1" y1="469.0" x2="45.1" y2="477.7" stroke="#000" stroke-width="3"/>
<text x="45.1" y="504.5" font-size="25" fill="#000" text-anchor="middle" >1560</text>
<line x1="116.7" y1="469.0" x2="116.7" y2="473.7" stroke="#000" stroke-width="3"/>
<line x1="188.2" y1="469.0" x2="188.2" y2="477.7" stroke="#000" stroke-width="3"/>
<text x="188.2" y="504.5" font-size="25" fill="#000" text-anchor="middle" >1520</text>
<line x1="259.8" y1="469.0" x2="259.8" y2="473.7" stroke="#000" stroke-width="3"/>
<line x1="331.3" y1="469.0" x2="331.3" y2="477.7" stroke="#000" stroke-width="3"/>
<text x="331.3" y="504.5" font-size="25" fill="#000" text-anchor="middle" >1480</text>
<line x1="402.9" y1="469.0" x2="402.9" y2="473.7" stroke="#000" stroke-width="3"/>
<line x1="474.4" y1="469.0" x2="474.4" y2="477.7" stroke="#000" stroke-width="3"/>
<text x="474.4" y="504.5" font-size="25" fill="#000" text-anchor="middle" >1440</text>
<line x1="545.9" y1="469.0" x2="545.9" y2="473.7" stroke="#000" stroke-width="3"/>
<text x="169.6" y="545.8" font-size="30.5">Wavenumber (cm<tspan font-size="19" dy="-12">-1</tspan><tspan dy="12">)</tspan></text>
<text x="28.3" y="50.4" font-size="41" fill="#000" text-anchor="start" >a</text>
<line x1="481.6" y1="31.0" x2="481.6" y2="68.4" stroke="#000" stroke-width="3.2"/>
<text x="493.0" y="62.2" font-size="29" fill="#000" text-anchor="start" >0.4</text>
<text x="17.7" y="115.5" font-size="28" fill="#000" text-anchor="start">HY<tspan font-size="28" dy="6.8">30</tspan><tspan dy="-6.8">-2.4</tspan></text>
<text x="17.7" y="189.3" font-size="28" fill="#000" text-anchor="start">HY<tspan font-size="28" dy="6.8">30</tspan><tspan dy="-6.8">-1.6</tspan></text>
<text x="17.7" y="264.3" font-size="28" fill="#000" text-anchor="start">HY<tspan font-size="28" dy="6.8">30</tspan><tspan dy="-6.8">-0.8</tspan></text>
<text x="17.7" y="350.4" font-size="28" fill="#000" text-anchor="start">HY<tspan font-size="28" dy="6.8">30</tspan><tspan dy="-6.8">-0.4</tspan></text>
<text x="17.7" y="423.5" font-size="28" fill="#000" text-anchor="start">HY<tspan font-size="28" dy="6.8">30</tspan><tspan dy="-6.8"></tspan></text>
<text x="102.7" y="424.3" font-size="26" fill="#000" text-anchor="start" >Bronsted acid</text>
<text x="316.7" y="405.3" font-size="26" fill="#000" text-anchor="start" >Lewis acid</text>
<rect x="736.0" y="62.3" width="43.3" height="404.8" fill="#358c1e" stroke="#000" stroke-width="1.4"/>
<rect x="779.3" y="386.8" width="43.3" height="80.3" fill="#ef8f3a" stroke="#000" stroke-width="1.4"/>
<rect x="844.5" y="272.6" width="43.3" height="194.5" fill="#358c1e" stroke="#000" stroke-width="1.4"/>
<rect x="887.8" y="392.7" width="43.3" height="74.4" fill="#ef8f3a" stroke="#000" stroke-width="1.4"/>
<rect x="953.0" y="396.3" width="43.3" height="70.8" fill="#358c1e" stroke="#000" stroke-width="1.4"/>
<rect x="996.3" y="393.5" width="43.3" height="73.6" fill="#ef8f3a" stroke="#000" stroke-width="1.4"/>
<rect x="1061.5" y="455.5" width="43.3" height="11.6" fill="#358c1e" stroke="#000" stroke-width="1.4"/>
<rect x="1104.8" y="396.2" width="43.3" height="70.9" fill="#ef8f3a" stroke="#000" stroke-width="1.4"/>
<rect x="1213.3" y="400.4" width="43.3" height="66.7" fill="#ef8f3a" stroke="#000" stroke-width="1.4"/>
<rect x="950.8" y="21.2" width="75.1" height="36.3" fill="#358c1e" stroke="#000" stroke-width="1.4"/>
<text x="1035.3" y="51.1" font-size="25.5" fill="#000" text-anchor="start" >BAS</text>
<rect x="1119.7" y="21.3" width="75" height="36.2" fill="#ef8f3a" stroke="#000" stroke-width="1.4"/>
<text x="1202.0" y="50.9" font-size="25.5" fill="#000" text-anchor="start" >LAS</text>
<line x1="721.0" y1="13.2" x2="1267.7" y2="13.2" stroke="#000" stroke-width="3.4"/>
<line x1="721.0" y1="467.2" x2="1269.5" y2="467.2" stroke="#000" stroke-width="3.4"/>
<line x1="725.6" y1="11.5" x2="725.6" y2="469.0" stroke="#000" stroke-width="3.4"/>
<line x1="1267.7" y1="11.5" x2="1267.7" y2="469.0" stroke="#c3231c" stroke-width="3.4"/>
<line x1="725.6" y1="467.1" x2="716.0" y2="467.1" stroke="#000" stroke-width="3"/>
<text x="710.0" y="476.0" font-size="31.5" fill="#000" text-anchor="end" >0</text>
<line x1="725.6" y1="425.9" x2="721.0" y2="425.9" stroke="#000" stroke-width="3"/>
<line x1="725.6" y1="384.6" x2="716.0" y2="384.6" stroke="#000" stroke-width="3"/>
<text x="710.0" y="393.5" font-size="31.5" fill="#000" text-anchor="end" >20</text>
<line x1="725.6" y1="343.4" x2="721.0" y2="343.4" stroke="#000" stroke-width="3"/>
<line x1="725.6" y1="302.1" x2="716.0" y2="302.1" stroke="#000" stroke-width="3"/>
<text x="710.0" y="311.0" font-size="31.5" fill="#000" text-anchor="end" >40</text>
<line x1="725.6" y1="260.9" x2="721.0" y2="260.9" stroke="#000" stroke-width="3"/>
<line x1="725.6" y1="219.7" x2="716.0" y2="219.7" stroke="#000" stroke-width="3"/>
<text x="710.0" y="228.6" font-size="31.5" fill="#000" text-anchor="end" >60</text>
<line x1="725.6" y1="178.4" x2="721.0" y2="178.4" stroke="#000" stroke-width="3"/>
<line x1="725.6" y1="137.2" x2="716.0" y2="137.2" stroke="#000" stroke-width="3"/>
<text x="710.0" y="146.1" font-size="31.5" fill="#000" text-anchor="end" >80</text>
<line x1="725.6" y1="95.9" x2="721.0" y2="95.9" stroke="#000" stroke-width="3"/>
<line x1="725.6" y1="54.7" x2="716.0" y2="54.7" stroke="#000" stroke-width="3"/>
<text x="710.0" y="63.6" font-size="31.5" fill="#000" text-anchor="end" >100</text>
<line x1="1267.7" y1="467.2" x2="1272.0" y2="467.2" stroke="#c3231c" stroke-width="3"/>
<line x1="1267.7" y1="432.3" x2="1276.5" y2="432.3" stroke="#c3231c" stroke-width="3"/>
<text x="1282.3" y="441.5" font-size="30.5" fill="#c3231c" text-anchor="start" >0</text>
<line x1="1267.7" y1="397.4" x2="1272.0" y2="397.4" stroke="#c3231c" stroke-width="3"/>
<line x1="1267.7" y1="362.5" x2="1276.5" y2="362.5" stroke="#c3231c" stroke-width="3"/>
<text x="1282.3" y="371.7" font-size="30.5" fill="#c3231c" text-anchor="start" >1</text>
<line x1="1267.7" y1="327.5" x2="1272.0" y2="327.5" stroke="#c3231c" stroke-width="3"/>
<line x1="1267.7" y1="292.6" x2="1276.5" y2="292.6" stroke="#c3231c" stroke-width="3"/>
<text x="1282.3" y="301.8" font-size="30.5" fill="#c3231c" text-anchor="start" >2</text>
<line x1="1267.7" y1="257.7" x2="1272.0" y2="257.7" stroke="#c3231c" stroke-width="3"/>
<line x1="1267.7" y1="222.8" x2="1276.5" y2="222.8" stroke="#c3231c" stroke-width="3"/>
<text x="1282.3" y="232.0" font-size="30.5" fill="#c3231c" text-anchor="start" >3</text>
<line x1="1267.7" y1="187.8" x2="1272.0" y2="187.8" stroke="#c3231c" stroke-width="3"/>
<line x1="1267.7" y1="152.9" x2="1276.5" y2="152.9" stroke="#c3231c" stroke-width="3"/>
<text x="1282.3" y="162.1" font-size="30.5" fill="#c3231c" text-anchor="start" >4</text>
<line x1="1267.7" y1="118.0" x2="1272.0" y2="118.0" stroke="#c3231c" stroke-width="3"/>
<line x1="1267.7" y1="83.1" x2="1276.5" y2="83.1" stroke="#c3231c" stroke-width="3"/>
<text x="1282.3" y="92.3" font-size="30.5" fill="#c3231c" text-anchor="start" >5</text>
<line x1="1267.7" y1="48.1" x2="1272.0" y2="48.1" stroke="#c3231c" stroke-width="3"/>
<line x1="1267.7" y1="13.2" x2="1276.5" y2="13.2" stroke="#c3231c" stroke-width="3"/>
<text x="1282.3" y="22.4" font-size="30.5" fill="#c3231c" text-anchor="start" >6</text>
<line x1="779.3" y1="467.2" x2="779.3" y2="475.6" stroke="#000" stroke-width="3"/>
<line x1="725.0" y1="467.2" x2="725.0" y2="471.5" stroke="#000" stroke-width="3"/>
<line x1="887.8" y1="467.2" x2="887.8" y2="475.6" stroke="#000" stroke-width="3"/>
<line x1="833.5" y1="467.2" x2="833.5" y2="471.5" stroke="#000" stroke-width="3"/>
<line x1="996.3" y1="467.2" x2="996.3" y2="475.6" stroke="#000" stroke-width="3"/>
<line x1="942.0" y1="467.2" x2="942.0" y2="471.5" stroke="#000" stroke-width="3"/>
<line x1="1104.8" y1="467.2" x2="1104.8" y2="475.6" stroke="#000" stroke-width="3"/>
<line x1="1050.5" y1="467.2" x2="1050.5" y2="471.5" stroke="#000" stroke-width="3"/>
<line x1="1213.3" y1="467.2" x2="1213.3" y2="475.6" stroke="#000" stroke-width="3"/>
<line x1="1159.0" y1="467.2" x2="1159.0" y2="471.5" stroke="#000" stroke-width="3"/>
<circle cx="779.4" cy="81.7" r="11.4" fill="#c3241d"/>
<circle cx="776.3" cy="78.5" r="5.70" fill="url(#hl)"/>
<circle cx="887.9" cy="250.9" r="11.4" fill="#c3241d"/>
<circle cx="884.8" cy="247.7" r="5.70" fill="url(#hl)"/>
<circle cx="996.6" cy="365.5" r="11.4" fill="#c3241d"/>
<circle cx="993.5" cy="362.3" r="5.70" fill="url(#hl)"/>
<circle cx="1104.6" cy="420.8" r="11.4" fill="#c3241d"/>
<circle cx="1101.5" cy="417.6" r="5.70" fill="url(#hl)"/>
<circle cx="1213.2" cy="432.3" r="11.4" fill="#c3241d"/>
<circle cx="1210.1" cy="429.1" r="5.70" fill="url(#hl)"/>
<polyline points="801.3,384.4 801.3,374.9 765,374.9" fill="none" stroke="#000" stroke-width="2.6"/>
<polygon points="751.0,374.9 771.1,369.9 771.1,379.9" fill="#000" stroke="none" stroke-width="0"/>
<polyline points="996.6,355.7 996.6,344.2 1030,344.2" fill="none" stroke="#c3231c" stroke-width="2.6"/>
<polygon points="1046.8,344.3 1027.1,339.5 1027.1,349.1" fill="#c3231c" stroke="none" stroke-width="0"/>
<text x="741.0" y="56.5" font-size="40" fill="#000" text-anchor="start" >b</text>
<text x="745.0" y="511.6" font-size="31" >HY<tspan font-size="22" dy="8.3">30</tspan><tspan dy="-8.3"></tspan></text>
<text x="823.8" y="511.6" font-size="31" >HY<tspan font-size="22" dy="8.3">30</tspan><tspan dy="-8.3">-0.4</tspan></text>
<text x="950.2" y="511.6" font-size="31" >HY<tspan font-size="22" dy="8.3">30</tspan><tspan dy="-8.3">-0.8</tspan></text>
<text x="1072.6" y="511.6" font-size="31" >HY<tspan font-size="22" dy="8.3">30</tspan><tspan dy="-8.3">-1.6</tspan></text>
<text x="1194.5" y="511.6" font-size="31" >HY<tspan font-size="22" dy="8.3">30</tspan><tspan dy="-8.3">-2.4</tspan></text>
<text x="1031.5" y="544.7" font-size="31.5" fill="#000" text-anchor="middle" >Zeolite</text>
<text transform="translate(650,240.9) rotate(-90)" font-size="38" text-anchor="middle">Concentration (µmol/g)</text>
<text transform="translate(1348,237.6) rotate(-90)" font-size="38" text-anchor="middle" fill="#c3231c">BAS/LAS ratio</text>
<clipPath id="clipc"><rect x="6" y="592.6" width="543" height="454.4"/></clipPath>
<g clip-path="url(#clipc)">
<polyline points="59.6,646.5 65.8,645.1 71.1,643.0 76.4,640.7 83.4,637.1 94.9,631.8 106.5,623.4 117.3,616.3 128.4,610.4 139.6,608.7 151.6,606.9 164.0,606.0 177.8,609.2 192.7,624.7 209.9,640.1 229.8,651.3 247.6,656.7 261.3,661.1 280.0,664.7 297.6,666.0 320.4,667.3 349.3,667.3 389.1,668.0 442.7,671.3 482.4,674.9 540.6,678.1" fill="none" stroke="#9c4fa8" stroke-width="2.8" stroke-linejoin="round" stroke-linecap="round" />
<polygon points="59.6,639.6 66.4,646.5 59.6,653.4 52.8,646.5" fill="#9c4fa8" stroke="none" stroke-width="0"/>
<polygon points="65.8,638.2 72.6,645.1 65.8,652.0 59.0,645.1" fill="#9c4fa8" stroke="none" stroke-width="0"/>
<polygon points="71.1,636.1 77.9,643.0 71.1,649.9 64.3,643.0" fill="#9c4fa8" stroke="none" stroke-width="0"/>
<polygon points="76.4,633.8 83.2,640.7 76.4,647.6 69.6,640.7" fill="#9c4fa8" stroke="none" stroke-width="0"/>
<polygon points="83.4,630.2 90.2,637.1 83.4,644.0 76.6,637.1" fill="#9c4fa8" stroke="none" stroke-width="0"/>
<polygon points="94.9,624.9 101.7,631.8 94.9,638.7 88.1,631.8" fill="#9c4fa8" stroke="none" stroke-width="0"/>
<polygon points="106.5,616.5 113.3,623.4 106.5,630.3 99.7,623.4" fill="#9c4fa8" stroke="none" stroke-width="0"/>
<polygon points="117.3,609.4 124.1,616.3 117.3,623.2 110.5,616.3" fill="#9c4fa8" stroke="none" stroke-width="0"/>
<polygon points="128.4,603.5 135.2,610.4 128.4,617.3 121.6,610.4" fill="#9c4fa8" stroke="none" stroke-width="0"/>
<polygon points="139.6,601.8 146.4,608.7 139.6,615.6 132.8,608.7" fill="#9c4fa8" stroke="none" stroke-width="0"/>
<polygon points="151.6,600.0 158.4,606.9 151.6,613.8 144.8,606.9" fill="#9c4fa8" stroke="none" stroke-width="0"/>
<polygon points="164.0,599.1 170.8,606.0 164.0,612.9 157.2,606.0" fill="#9c4fa8" stroke="none" stroke-width="0"/>
<polygon points="177.8,602.3 184.6,609.2 177.8,616.1 171.0,609.2" fill="#9c4fa8" stroke="none" stroke-width="0"/>
<polygon points="192.7,617.8 199.5,624.7 192.7,631.6 185.9,624.7" fill="#9c4fa8" stroke="none" stroke-width="0"/>
<polygon points="209.9,633.2 216.7,640.1 209.9,647.0 203.1,640.1" fill="#9c4fa8" stroke="none" stroke-width="0"/>
<polygon points="229.8,644.4 236.6,651.3 229.8,658.2 223.0,651.3" fill="#9c4fa8" stroke="none" stroke-width="0"/>
<polygon points="247.6,649.8 254.4,656.7 247.6,663.6 240.8,656.7" fill="#9c4fa8" stroke="none" stroke-width="0"/>
<polygon points="261.3,654.2 268.1,661.1 261.3,668.0 254.5,661.1" fill="#9c4fa8" stroke="none" stroke-width="0"/>
<polygon points="280.0,657.8 286.8,664.7 280.0,671.6 273.2,664.7" fill="#9c4fa8" stroke="none" stroke-width="0"/>
<polygon points="297.6,659.1 304.4,666.0 297.6,672.9 290.8,666.0" fill="#9c4fa8" stroke="none" stroke-width="0"/>
<polygon points="320.4,660.4 327.2,667.3 320.4,674.2 313.6,667.3" fill="#9c4fa8" stroke="none" stroke-width="0"/>
<polygon points="349.3,660.4 356.1,667.3 349.3,674.2 342.5,667.3" fill="#9c4fa8" stroke="none" stroke-width="0"/>
<polygon points="389.1,661.1 395.9,668.0 389.1,674.9 382.3,668.0" fill="#9c4fa8" stroke="none" stroke-width="0"/>
<polygon points="442.7,664.4 449.5,671.3 442.7,678.2 435.9,671.3" fill="#9c4fa8" stroke="none" stroke-width="0"/>
<polygon points="482.4,668.0 489.2,674.9 482.4,681.8 475.6,674.9" fill="#9c4fa8" stroke="none" stroke-width="0"/>
<polygon points="540.6,671.2 547.4,678.1 540.6,685.0 533.8,678.1" fill="#9c4fa8" stroke="none" stroke-width="0"/>
<polyline points="59.6,728.7 65.8,728.3 71.1,726.9 76.4,726.5 83.4,717.1 94.9,710.9 106.5,704.7 117.3,696.7 128.4,692.8 139.6,691.0 151.6,688.7 164.0,689.6 177.8,691.0 192.7,702.0 209.9,717.1 229.8,729.6 247.6,735.8 261.3,739.3 278.4,743.5 297.9,747.9 320.7,749.4 350.0,751.5 390.5,753.3 446.7,753.9 484.3,756.1 544.8,758.4" fill="none" stroke="#2f5aa8" stroke-width="2.8" stroke-linejoin="round" stroke-linecap="round" />
<polygon points="53.1,725.0 66.1,725.0 59.6,736.0" fill="#2f5aa8" stroke="none" stroke-width="0"/>
<polygon points="59.3,724.6 72.3,724.6 65.8,735.6" fill="#2f5aa8" stroke="none" stroke-width="0"/>
<polygon points="64.6,723.2 77.6,723.2 71.1,734.2" fill="#2f5aa8" stroke="none" stroke-width="0"/>
<polygon points="69.9,722.8 82.9,722.8 76.4,733.8" fill="#2f5aa8" stroke="none" stroke-width="0"/>
<polygon points="76.9,713.4 89.9,713.4 83.4,724.4" fill="#2f5aa8" stroke="none" stroke-width="0"/>
<polygon points="88.4,707.2 101.4,707.2 94.9,718.2" fill="#2f5aa8" stroke="none" stroke-width="0"/>
<polygon points="100.0,701.0 113.0,701.0 106.5,712.0" fill="#2f5aa8" stroke="none" stroke-width="0"/>
<polygon points="110.8,693.0 123.8,693.0 117.3,704.0" fill="#2f5aa8" stroke="none" stroke-width="0"/>
<polygon points="121.9,689.1 134.9,689.1 128.4,700.1" fill="#2f5aa8" stroke="none" stroke-width="0"/>
<polygon points="133.1,687.3 146.1,687.3 139.6,698.3" fill="#2f5aa8" stroke="none" stroke-width="0"/>
<polygon points="145.1,685.0 158.1,685.0 151.6,696.0" fill="#2f5aa8" stroke="none" stroke-width="0"/>
<polygon points="157.5,685.9 170.5,685.9 164.0,696.9" fill="#2f5aa8" stroke="none" stroke-width="0"/>
<polygon points="171.3,687.3 184.3,687.3 177.8,698.3" fill="#2f5aa8" stroke="none" stroke-width="0"/>
<polygon points="186.2,698.3 199.2,698.3 192.7,709.3" fill="#2f5aa8" stroke="none" stroke-width="0"/>
<polygon points="203.4,713.4 216.4,713.4 209.9,724.4" fill="#2f5aa8" stroke="none" stroke-width="0"/>
<polygon points="223.3,725.9 236.3,725.9 229.8,736.9" fill="#2f5aa8" stroke="none" stroke-width="0"/>
<polygon points="241.1,732.1 254.1,732.1 247.6,743.1" fill="#2f5aa8" stroke="none" stroke-width="0"/>
<polygon points="254.8,735.6 267.8,735.6 261.3,746.6" fill="#2f5aa8" stroke="none" stroke-width="0"/>
<polygon points="271.9,739.8 284.9,739.8 278.4,750.8" fill="#2f5aa8" stroke="none" stroke-width="0"/>
<polygon points="291.4,744.2 304.4,744.2 297.9,755.2" fill="#2f5aa8" stroke="none" stroke-width="0"/>
<polygon points="314.2,745.7 327.2,745.7 320.7,756.7" fill="#2f5aa8" stroke="none" stroke-width="0"/>
<polygon points="343.5,747.8 356.5,747.8 350.0,758.8" fill="#2f5aa8" stroke="none" stroke-width="0"/>
<polygon points="384.0,749.6 397.0,749.6 390.5,760.6" fill="#2f5aa8" stroke="none" stroke-width="0"/>
<polygon points="440.2,750.2 453.2,750.2 446.7,761.2" fill="#2f5aa8" stroke="none" stroke-width="0"/>
<polygon points="477.8,752.4 490.8,752.4 484.3,763.4" fill="#2f5aa8" stroke="none" stroke-width="0"/>
<polygon points="538.3,754.7 551.3,754.7 544.8,765.7" fill="#2f5aa8" stroke="none" stroke-width="0"/>
<polyline points="59.6,820.3 65.8,819.4 71.1,818.6 76.4,815.0 83.4,809.3 94.9,801.7 106.5,791.0 117.3,779.4 128.4,773.8 139.6,767.9 151.6,768.4 164.0,777.3 177.8,794.2 192.7,816.8 209.9,833.1 229.8,842.0 247.6,844.3 261.3,847.0 278.4,849.7 297.9,852.4 320.7,855.2 350.0,856.7 390.5,858.4 446.7,859.3 484.3,862.8 544.8,864.1" fill="none" stroke="#ea7a2c" stroke-width="2.8" stroke-linejoin="round" stroke-linecap="round" />
<polygon points="53.1,824.0 66.1,824.0 59.6,813.0" fill="#ea7a2c" stroke="none" stroke-width="0"/>
<polygon points="59.3,823.1 72.3,823.1 65.8,812.1" fill="#ea7a2c" stroke="none" stroke-width="0"/>
<polygon points="64.6,822.3 77.6,822.3 71.1,811.3" fill="#ea7a2c" stroke="none" stroke-width="0"/>
<polygon points="69.9,818.7 82.9,818.7 76.4,807.7" fill="#ea7a2c" stroke="none" stroke-width="0"/>
<polygon points="76.9,813.0 89.9,813.0 83.4,802.0" fill="#ea7a2c" stroke="none" stroke-width="0"/>
<polygon points="88.4,805.4 101.4,805.4 94.9,794.4" fill="#ea7a2c" stroke="none" stroke-width="0"/>
<polygon points="100.0,794.7 113.0,794.7 106.5,783.7" fill="#ea7a2c" stroke="none" stroke-width="0"/>
<polygon points="110.8,783.1 123.8,783.1 117.3,772.1" fill="#ea7a2c" stroke="none" stroke-width="0"/>
<polygon points="121.9,777.5 134.9,777.5 128.4,766.5" fill="#ea7a2c" stroke="none" stroke-width="0"/>
<polygon points="133.1,771.6 146.1,771.6 139.6,760.6" fill="#ea7a2c" stroke="none" stroke-width="0"/>
<polygon points="145.1,772.1 158.1,772.1 151.6,761.1" fill="#ea7a2c" stroke="none" stroke-width="0"/>
<polygon points="157.5,781.0 170.5,781.0 164.0,770.0" fill="#ea7a2c" stroke="none" stroke-width="0"/>
<polygon points="171.3,797.9 184.3,797.9 177.8,786.9" fill="#ea7a2c" stroke="none" stroke-width="0"/>
<polygon points="186.2,820.5 199.2,820.5 192.7,809.5" fill="#ea7a2c" stroke="none" stroke-width="0"/>
<polygon points="203.4,836.8 216.4,836.8 209.9,825.8" fill="#ea7a2c" stroke="none" stroke-width="0"/>
<polygon points="223.3,845.7 236.3,845.7 229.8,834.7" fill="#ea7a2c" stroke="none" stroke-width="0"/>
<polygon points="241.1,848.0 254.1,848.0 247.6,837.0" fill="#ea7a2c" stroke="none" stroke-width="0"/>
<polygon points="254.8,850.7 267.8,850.7 261.3,839.7" fill="#ea7a2c" stroke="none" stroke-width="0"/>
<polygon points="271.9,853.4 284.9,853.4 278.4,842.4" fill="#ea7a2c" stroke="none" stroke-width="0"/>
<polygon points="291.4,856.1 304.4,856.1 297.9,845.1" fill="#ea7a2c" stroke="none" stroke-width="0"/>
<polygon points="314.2,858.9 327.2,858.9 320.7,847.9" fill="#ea7a2c" stroke="none" stroke-width="0"/>
<polygon points="343.5,860.4 356.5,860.4 350.0,849.4" fill="#ea7a2c" stroke="none" stroke-width="0"/>
<polygon points="384.0,862.1 397.0,862.1 390.5,851.1" fill="#ea7a2c" stroke="none" stroke-width="0"/>
<polygon points="440.2,863.0 453.2,863.0 446.7,852.0" fill="#ea7a2c" stroke="none" stroke-width="0"/>
<polygon points="477.8,866.5 490.8,866.5 484.3,855.5" fill="#ea7a2c" stroke="none" stroke-width="0"/>
<polygon points="538.3,867.8 551.3,867.8 544.8,856.8" fill="#ea7a2c" stroke="none" stroke-width="0"/>
<polyline points="59.6,894.4 65.8,894.4 71.1,895.4 76.4,892.2 83.4,889.6 94.9,884.8 106.5,879.8 117.3,875.3 128.4,873.9 139.6,877.6 151.6,883.3 164.0,894.4 177.8,905.9 192.7,913.0 209.9,916.0 229.8,916.0 247.6,915.6 261.3,916.5 278.4,919.8 297.9,922.3 320.7,924.0 350.0,925.5 390.5,926.8 446.7,928.2 484.3,930.9 544.8,932.7" fill="none" stroke="#7b8430" stroke-width="2.8" stroke-linejoin="round" stroke-linecap="round" />
<circle cx="59.6" cy="894.4" r="5.5" fill="#7b8430"/>
<circle cx="65.8" cy="894.4" r="5.5" fill="#7b8430"/>
<circle cx="71.1" cy="895.4" r="5.5" fill="#7b8430"/>
<circle cx="76.4" cy="892.2" r="5.5" fill="#7b8430"/>
<circle cx="83.4" cy="889.6" r="5.5" fill="#7b8430"/>
<circle cx="94.9" cy="884.8" r="5.5" fill="#7b8430"/>
<circle cx="106.5" cy="879.8" r="5.5" fill="#7b8430"/>
<circle cx="117.3" cy="875.3" r="5.5" fill="#7b8430"/>
<circle cx="128.4" cy="873.9" r="5.5" fill="#7b8430"/>
<circle cx="139.6" cy="877.6" r="5.5" fill="#7b8430"/>
<circle cx="151.6" cy="883.3" r="5.5" fill="#7b8430"/>
<circle cx="164.0" cy="894.4" r="5.5" fill="#7b8430"/>
<circle cx="177.8" cy="905.9" r="5.5" fill="#7b8430"/>
<circle cx="192.7" cy="913.0" r="5.5" fill="#7b8430"/>
<circle cx="209.9" cy="916.0" r="5.5" fill="#7b8430"/>
<circle cx="229.8" cy="916.0" r="5.5" fill="#7b8430"/>
<circle cx="247.6" cy="915.6" r="5.5" fill="#7b8430"/>
<circle cx="261.3" cy="916.5" r="5.5" fill="#7b8430"/>
<circle cx="278.4" cy="919.8" r="5.5" fill="#7b8430"/>
<circle cx="297.9" cy="922.3" r="5.5" fill="#7b8430"/>
<circle cx="320.7" cy="924.0" r="5.5" fill="#7b8430"/>
<circle cx="350.0" cy="925.5" r="5.5" fill="#7b8430"/>
<circle cx="390.5" cy="926.8" r="5.5" fill="#7b8430"/>
<circle cx="446.7" cy="928.2" r="5.5" fill="#7b8430"/>
<circle cx="484.3" cy="930.9" r="5.5" fill="#7b8430"/>
<circle cx="544.8" cy="932.7" r="5.5" fill="#7b8430"/>
<polyline points="59.6,981.4 65.8,981.4 71.1,979.6 76.4,977.3 83.4,973.8 94.9,965.4 106.5,955.6 117.3,947.1 128.4,942.3 139.6,942.7 151.6,946.6 164.0,960.1 177.8,977.3 192.7,993.3 209.9,1001.7 229.8,1004.5 247.6,1005.8 261.3,1006.7 278.4,1008.8 297.9,1011.5 320.7,1014.3 350.0,1015.3 390.5,1017.5 446.7,1018.8 484.3,1021.0 544.8,1023.7" fill="none" stroke="#72d28f" stroke-width="2.8" stroke-linejoin="round" stroke-linecap="round" />
<rect x="54.6" y="976.4" width="10" height="10" fill="#72d28f"/>
<rect x="60.8" y="976.4" width="10" height="10" fill="#72d28f"/>
<rect x="66.1" y="974.6" width="10" height="10" fill="#72d28f"/>
<rect x="71.4" y="972.3" width="10" height="10" fill="#72d28f"/>
<rect x="78.4" y="968.8" width="10" height="10" fill="#72d28f"/>
<rect x="89.9" y="960.4" width="10" height="10" fill="#72d28f"/>
<rect x="101.5" y="950.6" width="10" height="10" fill="#72d28f"/>
<rect x="112.3" y="942.1" width="10" height="10" fill="#72d28f"/>
<rect x="123.4" y="937.3" width="10" height="10" fill="#72d28f"/>
<rect x="134.6" y="937.7" width="10" height="10" fill="#72d28f"/>
<rect x="146.6" y="941.6" width="10" height="10" fill="#72d28f"/>
<rect x="159.0" y="955.1" width="10" height="10" fill="#72d28f"/>
<rect x="172.8" y="972.3" width="10" height="10" fill="#72d28f"/>
<rect x="187.7" y="988.3" width="10" height="10" fill="#72d28f"/>
<rect x="204.9" y="996.7" width="10" height="10" fill="#72d28f"/>
<rect x="224.8" y="999.5" width="10" height="10" fill="#72d28f"/>
<rect x="242.6" y="1000.8" width="10" height="10" fill="#72d28f"/>
<rect x="256.3" y="1001.7" width="10" height="10" fill="#72d28f"/>
<rect x="273.4" y="1003.8" width="10" height="10" fill="#72d28f"/>
<rect x="292.9" y="1006.5" width="10" height="10" fill="#72d28f"/>
<rect x="315.7" y="1009.3" width="10" height="10" fill="#72d28f"/>
<rect x="345.0" y="1010.3" width="10" height="10" fill="#72d28f"/>
<rect x="385.5" y="1012.5" width="10" height="10" fill="#72d28f"/>
<rect x="441.7" y="1013.8" width="10" height="10" fill="#72d28f"/>
<rect x="479.3" y="1016.0" width="10" height="10" fill="#72d28f"/>
<rect x="539.8" y="1018.7" width="10" height="10" fill="#72d28f"/>
</g>
<rect x="6" y="592.6" width="543" height="454.4" fill="none" stroke="#000" stroke-width="3.3"/>
<line x1="6.2" y1="1047.0" x2="6.2" y2="1055.6" stroke="#000" stroke-width="3"/>
<line x1="75.9" y1="1047.0" x2="75.9" y2="1051.8" stroke="#000" stroke-width="3"/>
<line x1="116.6" y1="1047.0" x2="116.6" y2="1051.8" stroke="#000" stroke-width="3"/>
<line x1="145.5" y1="1047.0" x2="145.5" y2="1051.8" stroke="#000" stroke-width="3"/>
<line x1="167.9" y1="1047.0" x2="167.9" y2="1051.8" stroke="#000" stroke-width="3"/>
<line x1="186.3" y1="1047.0" x2="186.3" y2="1051.8" stroke="#000" stroke-width="3"/>
<line x1="201.8" y1="1047.0" x2="201.8" y2="1051.8" stroke="#000" stroke-width="3"/>
<line x1="215.2" y1="1047.0" x2="215.2" y2="1051.8" stroke="#000" stroke-width="3"/>
<line x1="227.0" y1="1047.0" x2="227.0" y2="1051.8" stroke="#000" stroke-width="3"/>
<line x1="237.6" y1="1047.0" x2="237.6" y2="1055.6" stroke="#000" stroke-width="3"/>
<line x1="307.3" y1="1047.0" x2="307.3" y2="1051.8" stroke="#000" stroke-width="3"/>
<line x1="348.0" y1="1047.0" x2="348.0" y2="1051.8" stroke="#000" stroke-width="3"/>
<line x1="376.9" y1="1047.0" x2="376.9" y2="1051.8" stroke="#000" stroke-width="3"/>
<line x1="399.3" y1="1047.0" x2="399.3" y2="1051.8" stroke="#000" stroke-width="3"/>
<line x1="417.7" y1="1047.0" x2="417.7" y2="1051.8" stroke="#000" stroke-width="3"/>
<line x1="433.2" y1="1047.0" x2="433.2" y2="1051.8" stroke="#000" stroke-width="3"/>
<line x1="446.6" y1="1047.0" x2="446.6" y2="1051.8" stroke="#000" stroke-width="3"/>
<line x1="458.4" y1="1047.0" x2="458.4" y2="1051.8" stroke="#000" stroke-width="3"/>
<line x1="469.0" y1="1047.0" x2="469.0" y2="1055.6" stroke="#000" stroke-width="3"/>
<line x1="538.7" y1="1047.0" x2="538.7" y2="1051.8" stroke="#000" stroke-width="3"/>
<text x="6.7" y="1085.0" font-size="27" fill="#000" text-anchor="middle" >1</text>
<text x="237.6" y="1085.0" font-size="27" fill="#000" text-anchor="middle" >10</text>
<text x="469.0" y="1085.0" font-size="27" fill="#000" text-anchor="middle" >100</text>
<text x="144.2" y="1129.6" font-size="38.4" fill="#000" text-anchor="start" >Pore diameter (nm)</text>
<text x="28.2" y="646.4" font-size="38" fill="#000" text-anchor="start" >c</text>
<text x="445.6" y="665.9" font-size="25.5" fill="#000" text-anchor="start">HY<tspan font-size="17.5" dy="7.1">30</tspan><tspan dy="-7.1">-2.4</tspan></text>
<text x="445.1" y="746.5" font-size="24.2" fill="#000" text-anchor="start">HY<tspan font-size="16.8" dy="7.1">30</tspan><tspan dy="-7.1">-1.6</tspan></text>
<text x="444.6" y="853.6" font-size="25.7" fill="#000" text-anchor="start">HY<tspan font-size="17.8" dy="7.1">30</tspan><tspan dy="-7.1">-0.8</tspan></text>
<text x="445.1" y="916.7" font-size="25.7" fill="#000" text-anchor="start">HY<tspan font-size="17.8" dy="7.1">30</tspan><tspan dy="-7.1">-0.4</tspan></text>
<text x="444.6" y="1011.5" font-size="26" fill="#000" text-anchor="start">HY<tspan font-size="18.5" dy="7.1">30</tspan><tspan dy="-7.1"></tspan></text>
<line x1="716.0" y1="587.0" x2="1251.3" y2="587.0" stroke="#000" stroke-width="3"/>
<line x1="716.0" y1="1040.5" x2="1252.5" y2="1040.5" stroke="#000" stroke-width="3.3"/>
<line x1="717.5" y1="586.0" x2="717.5" y2="1042.0" stroke="#1c14f6" stroke-width="3"/>
<rect x="717.4" y="797.1" width="529.7" height="114.7" fill="#7dd78e" fill-opacity="0.3"/>
<line x1="1251.3" y1="586.0" x2="1251.3" y2="1042.0" stroke="#ff1a12" stroke-width="3"/>
<line x1="717.5" y1="1040.0" x2="708.9" y2="1040.0" stroke="#1c14f6" stroke-width="3"/>
<text x="702.3" y="1048.6" font-size="29.3" fill="#1c14f6" text-anchor="end" >0</text>
<line x1="717.5" y1="996.8" x2="712.9" y2="996.8" stroke="#1c14f6" stroke-width="3"/>
<line x1="717.5" y1="953.7" x2="708.9" y2="953.7" stroke="#1c14f6" stroke-width="3"/>
<text x="702.3" y="962.3" font-size="29.3" fill="#1c14f6" text-anchor="end" >20</text>
<line x1="717.5" y1="910.5" x2="712.9" y2="910.5" stroke="#1c14f6" stroke-width="3"/>
<line x1="717.5" y1="867.4" x2="708.9" y2="867.4" stroke="#1c14f6" stroke-width="3"/>
<text x="702.3" y="876.0" font-size="29.3" fill="#1c14f6" text-anchor="end" >40</text>
<line x1="717.5" y1="824.2" x2="712.9" y2="824.2" stroke="#1c14f6" stroke-width="3"/>
<line x1="717.5" y1="781.0" x2="708.9" y2="781.0" stroke="#1c14f6" stroke-width="3"/>
<text x="702.3" y="789.6" font-size="29.3" fill="#1c14f6" text-anchor="end" >60</text>
<line x1="717.5" y1="737.9" x2="712.9" y2="737.9" stroke="#1c14f6" stroke-width="3"/>
<line x1="717.5" y1="694.7" x2="708.9" y2="694.7" stroke="#1c14f6" stroke-width="3"/>
<text x="702.3" y="703.3" font-size="29.3" fill="#1c14f6" text-anchor="end" >80</text>
<line x1="717.5" y1="651.6" x2="712.9" y2="651.6" stroke="#1c14f6" stroke-width="3"/>
<line x1="717.5" y1="608.4" x2="708.9" y2="608.4" stroke="#1c14f6" stroke-width="3"/>
<text x="702.3" y="617.0" font-size="29.3" fill="#1c14f6" text-anchor="end" >100</text>
<line x1="1251.3" y1="1041.0" x2="1259.6" y2="1041.0" stroke="#ff1a12" stroke-width="3"/>
<text x="1266.5" y="1049.3" font-size="29.8" fill="#ff1a12" text-anchor="start" >0</text>
<line x1="1251.3" y1="1018.3" x2="1255.5" y2="1018.3" stroke="#ff1a12" stroke-width="3"/>
<line x1="1251.3" y1="995.6" x2="1259.6" y2="995.6" stroke="#ff1a12" stroke-width="3"/>
<text x="1266.5" y="1003.9" font-size="29.8" fill="#ff1a12" text-anchor="start" >10</text>
<line x1="1251.3" y1="972.9" x2="1255.5" y2="972.9" stroke="#ff1a12" stroke-width="3"/>
<line x1="1251.3" y1="950.2" x2="1259.6" y2="950.2" stroke="#ff1a12" stroke-width="3"/>
<text x="1266.5" y="958.5" font-size="29.8" fill="#ff1a12" text-anchor="start" >20</text>
<line x1="1251.3" y1="927.5" x2="1255.5" y2="927.5" stroke="#ff1a12" stroke-width="3"/>
<line x1="1251.3" y1="904.8" x2="1259.6" y2="904.8" stroke="#ff1a12" stroke-width="3"/>
<text x="1266.5" y="913.1" font-size="29.8" fill="#ff1a12" text-anchor="start" >30</text>
<line x1="1251.3" y1="882.1" x2="1255.5" y2="882.1" stroke="#ff1a12" stroke-width="3"/>
<line x1="1251.3" y1="859.4" x2="1259.6" y2="859.4" stroke="#ff1a12" stroke-width="3"/>
<text x="1266.5" y="867.7" font-size="29.8" fill="#ff1a12" text-anchor="start" >40</text>
<line x1="1251.3" y1="836.7" x2="1255.5" y2="836.7" stroke="#ff1a12" stroke-width="3"/>
<line x1="1251.3" y1="814.0" x2="1259.6" y2="814.0" stroke="#ff1a12" stroke-width="3"/>
<text x="1266.5" y="822.3" font-size="29.8" fill="#ff1a12" text-anchor="start" >50</text>
<line x1="1251.3" y1="791.3" x2="1255.5" y2="791.3" stroke="#ff1a12" stroke-width="3"/>
<line x1="1251.3" y1="768.6" x2="1259.6" y2="768.6" stroke="#ff1a12" stroke-width="3"/>
<text x="1266.5" y="776.9" font-size="29.8" fill="#ff1a12" text-anchor="start" >60</text>
<line x1="1251.3" y1="745.9" x2="1255.5" y2="745.9" stroke="#ff1a12" stroke-width="3"/>
<line x1="1251.3" y1="723.2" x2="1259.6" y2="723.2" stroke="#ff1a12" stroke-width="3"/>
<text x="1266.5" y="731.5" font-size="29.8" fill="#ff1a12" text-anchor="start" >70</text>
<line x1="1251.3" y1="700.5" x2="1255.5" y2="700.5" stroke="#ff1a12" stroke-width="3"/>
<line x1="1251.3" y1="677.8" x2="1259.6" y2="677.8" stroke="#ff1a12" stroke-width="3"/>
<text x="1266.5" y="686.1" font-size="29.8" fill="#ff1a12" text-anchor="start" >80</text>
<line x1="1251.3" y1="655.1" x2="1255.5" y2="655.1" stroke="#ff1a12" stroke-width="3"/>
<line x1="1251.3" y1="632.4" x2="1259.6" y2="632.4" stroke="#ff1a12" stroke-width="3"/>
<text x="1266.5" y="640.7" font-size="29.8" fill="#ff1a12" text-anchor="start" >90</text>
<line x1="1251.3" y1="609.7" x2="1255.5" y2="609.7" stroke="#ff1a12" stroke-width="3"/>
<line x1="1251.3" y1="587.0" x2="1259.6" y2="587.0" stroke="#ff1a12" stroke-width="3"/>
<text x="1266.5" y="595.3" font-size="29.8" fill="#ff1a12" text-anchor="start" >100</text>
<line x1="770.4" y1="1040.5" x2="770.4" y2="1048.4" stroke="#000" stroke-width="3"/>
<line x1="717.0" y1="1040.5" x2="717.0" y2="1045.0" stroke="#000" stroke-width="3"/>
<line x1="877.2" y1="1040.5" x2="877.2" y2="1048.4" stroke="#000" stroke-width="3"/>
<line x1="823.8" y1="1040.5" x2="823.8" y2="1045.0" stroke="#000" stroke-width="3"/>
<line x1="984.0" y1="1040.5" x2="984.0" y2="1048.4" stroke="#000" stroke-width="3"/>
<line x1="930.6" y1="1040.5" x2="930.6" y2="1045.0" stroke="#000" stroke-width="3"/>
<line x1="1090.8" y1="1040.5" x2="1090.8" y2="1048.4" stroke="#000" stroke-width="3"/>
<line x1="1037.4" y1="1040.5" x2="1037.4" y2="1045.0" stroke="#000" stroke-width="3"/>
<line x1="1197.6" y1="1040.5" x2="1197.6" y2="1048.4" stroke="#000" stroke-width="3"/>
<line x1="1144.2" y1="1040.5" x2="1144.2" y2="1045.0" stroke="#000" stroke-width="3"/>
<line x1="777.2" y1="622.1" x2="870.5" y2="802.7" stroke="#1c14f6" stroke-width="2.8"/>
<line x1="885.4" y1="827.5" x2="975.7" y2="958.1" stroke="#1c14f6" stroke-width="2.8"/>
<line x1="997.0" y1="976.4" x2="1077.7" y2="1015.8" stroke="#1c14f6" stroke-width="2.8"/>
<line x1="1105.2" y1="1022.9" x2="1183.3" y2="1026.6" stroke="#1c14f6" stroke-width="2.8"/>
<circle cx="770.6" cy="609.2" r="10.7" fill="#3526f6"/>
<circle cx="767.7" cy="606.2" r="5.35" fill="url(#hl)"/>
<circle cx="877.1" cy="815.6" r="10.7" fill="#3526f6"/>
<circle cx="874.2" cy="812.6" r="5.35" fill="url(#hl)"/>
<circle cx="984.0" cy="970.0" r="10.7" fill="#3526f6"/>
<circle cx="981.1" cy="967.0" r="5.35" fill="url(#hl)"/>
<circle cx="1090.7" cy="1022.2" r="10.7" fill="#3526f6"/>
<circle cx="1087.8" cy="1019.2" r="5.35" fill="url(#hl)"/>
<circle cx="1197.8" cy="1027.3" r="10.7" fill="#3526f6"/>
<circle cx="1194.9" cy="1024.3" r="5.35" fill="url(#hl)"/>
<circle cx="770.7" cy="886.2" r="10.6" fill="#ff1f10"/>
<circle cx="767.8" cy="883.2" r="5.30" fill="url(#hl)"/>
<circle cx="877.3" cy="872.9" r="10.6" fill="#ff1f10"/>
<circle cx="874.4" cy="869.9" r="5.30" fill="url(#hl)"/>
<circle cx="984.0" cy="895.6" r="10.6" fill="#ff1f10"/>
<circle cx="981.1" cy="892.6" r="5.30" fill="url(#hl)"/>
<circle cx="1091.1" cy="828.9" r="10.6" fill="#ff1f10"/>
<circle cx="1088.2" cy="825.9" r="5.30" fill="url(#hl)"/>
<line x1="865.6" y1="815.3" x2="820.0" y2="815.3" stroke="#1c14f6" stroke-width="3.1"/>
<polygon points="802.7,815.3 825.6,809.7 825.6,820.9" fill="#1c14f6" stroke="none" stroke-width="0"/>
<line x1="1101.8" y1="828.2" x2="1140.0" y2="828.2" stroke="#ff1a12" stroke-width="3.1"/>
<polygon points="1159.6,828.2 1136.7,822.4 1136.7,834.0" fill="#ff1a12" stroke="none" stroke-width="0"/>
<text x="742.2" y="652.6" font-size="39" fill="#000" text-anchor="start" >d</text>
<text x="745.0" y="1083.8" font-size="28.6" >HY<tspan font-size="20.3" dy="7.3">30</tspan><tspan dy="-7.3"></tspan></text>
<text x="822.3" y="1083.8" font-size="28.6" >HY<tspan font-size="20.3" dy="7.3">30</tspan><tspan dy="-7.3">-0.4</tspan></text>
<text x="939.3" y="1083.8" font-size="28.6" >HY<tspan font-size="20.3" dy="7.3">30</tspan><tspan dy="-7.3">-0.8</tspan></text>
<text x="1053.4" y="1083.8" font-size="28.6" >HY<tspan font-size="20.3" dy="7.3">30</tspan><tspan dy="-7.3">-1.6</tspan></text>
<text x="1166.7" y="1083.8" font-size="28.6" >HY<tspan font-size="20.3" dy="7.3">30</tspan><tspan dy="-7.3">-2.4</tspan></text>
<text x="1031.5" y="1129.0" font-size="31" fill="#000" text-anchor="middle" >Zeolite</text>
<text transform="translate(648,813) rotate(-90)" font-size="36" text-anchor="middle" fill="#1c14f6">Catechol yield (%)</text>
<text transform="translate(1338,825) rotate(-90)" font-size="35.5" text-anchor="middle" fill="#ff1a12">Catechol yield (mol/mmol BAS)</text>
</svg>
</body></html>
